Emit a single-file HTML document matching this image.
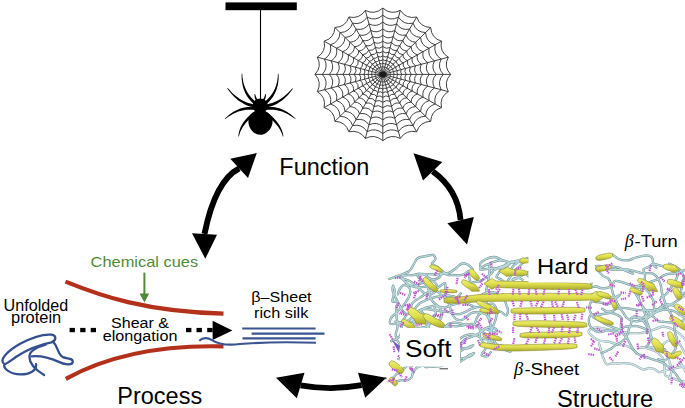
<!DOCTYPE html>
<html><head><meta charset="utf-8"><title>Silk: function, process, structure</title>
<style>
html,body{margin:0;padding:0;background:#fff;}
body{width:685px;height:408px;overflow:hidden;}
svg{display:block;}
svg text{font-family:"Liberation Sans",sans-serif;}
</style></head><body>
<svg width="685" height="408" viewBox="0 0 685 408">
<rect x="225.5" y="2.4" width="71.3" height="7.8" fill="#000"/>
<line x1="260.5" y1="10" x2="260.5" y2="99" stroke="#000" stroke-width="1.1"/>
<path d="M239.2,168.4 Q215.2,180.8 204.5,233.9" fill="none" stroke="#000" stroke-width="5.9"/>
<polygon points="256.8,153 230.3,158.8 248,178" fill="#000"/>
<polygon points="205.3,258.8 192,233.2 217,234.7" fill="#000"/>
<path d="M432.7,171.3 Q457.9,189.3 460.6,220.1" fill="none" stroke="#000" stroke-width="5.8"/>
<polygon points="413.5,153.2 423,180.6 442.4,162" fill="#000"/>
<polygon points="467,244.4 447.4,223.2 473.8,217" fill="#000"/>
<path d="M300.6,385.4 Q331.0,390.8 361.6,385.2" fill="none" stroke="#000" stroke-width="5.8"/>
<polygon points="276,377.8 304.5,372.7 296.8,398.2" fill="#000"/>
<polygon points="386.3,377.8 358,372.7 365.2,397.8" fill="#000"/>
<path d="M65.5,281.6 C100,295.6 145,311.6 223.5,313.6" fill="none" stroke="#b3301a" stroke-width="4.2"/>
<path d="M65.8,378.8 C100,360 150,344.5 223.5,346.4" fill="none" stroke="#b3301a" stroke-width="4.2"/>
<rect x="69.6" y="327.9" width="5.3" height="4.3" fill="#000"/>
<rect x="80.2" y="327.9" width="5.3" height="4.3" fill="#000"/>
<rect x="90.7" y="327.9" width="5.3" height="4.3" fill="#000"/>
<rect x="186" y="327.9" width="5.4" height="4.3" fill="#000"/>
<rect x="196.5" y="327.9" width="5.4" height="4.3" fill="#000"/>
<rect x="207.2" y="327.9" width="5.4" height="4.3" fill="#000"/>
<polygon points="232.4,330.5 212.6,320.7 212.6,340.1" fill="#000"/>
<line x1="144.4" y1="272.6" x2="144.4" y2="295" stroke="#4f8a3a" stroke-width="2"/>
<polygon points="144.4,302.4 139.6,293.6 149.2,293.6" fill="#4f8a3a"/>
<line x1="242.2" y1="328.5" x2="315.6" y2="328.5" stroke="#3b5591" stroke-width="2.1"/>
<line x1="251.6" y1="333.6" x2="324.5" y2="333.6" stroke="#3b5591" stroke-width="2.1"/>
<line x1="242.5" y1="338.4" x2="315.6" y2="338.4" stroke="#3b5591" stroke-width="2.1"/>
<path d="M199.3,340.9 C202,337.6 207.5,337.2 211.5,339.8 C218,344 228,345.6 240,344 C262,342.2 290,342 316,342.8" fill="none" stroke="#3b5591" stroke-width="2.1"/>
<path d="M3.2,362.9 C0.0,358.5 8.8,350.1 20.6,343.5 C32.4,337.4 44.1,334.0 51.5,334.7 C56.6,335.3 56.6,340.6 51.5,342.4 C41.2,344.3 26.5,350.1 16.2,356.8 C10.3,360.9 6.6,364.1 4.4,364.1 C2.9,368.5 10.3,374.4 20.6,374.4 C29.4,374.4 37.1,370.7 36.0,364.1" fill="none" stroke="#34508f" stroke-width="2.3" stroke-linecap="round"/>
<path d="M44.1,375.1 C36.8,370.7 29.4,364.1 29.4,356.8 C29.4,351.6 36.8,347.2 45.6,344.7" fill="none" stroke="#34508f" stroke-width="2.3" stroke-linecap="round"/>
<path d="M53.2,341.8 C58.1,346.5 57.4,354.1 62.9,357.1 C67.6,359.0 73.1,357.9 72.8,361.9 C72.5,365.6 65.4,364.9 58.8,361.9 C51.5,358.5 42.6,355.3 31.6,356.3" fill="none" stroke="#34508f" stroke-width="2.3" stroke-linecap="round"/>
<path d="M382.8,74.4L450.6,74.4M382.8,74.4L448.3,91.6M382.8,74.4L441.5,107.6M382.8,74.4L430.7,121.3M382.8,74.4L416.7,131.8M382.8,74.4L400.3,138.4M382.8,74.4L382.8,140.7M382.8,74.4L365.3,138.4M382.8,74.4L348.9,131.8M382.8,74.4L334.9,121.3M382.8,74.4L324.1,107.6M382.8,74.4L317.3,91.6M382.8,74.4L315.0,74.4M382.8,74.4L317.3,57.2M382.8,74.4L324.1,41.2M382.8,74.4L334.9,27.5M382.8,74.4L348.9,17.0M382.8,74.4L365.3,10.4M382.8,74.4L382.8,8.1M382.8,74.4L400.3,10.4M382.8,74.4L416.7,17.0M382.8,74.4L430.7,27.5M382.8,74.4L441.5,41.2M382.8,74.4L448.3,57.2" fill="none" stroke="#383838" stroke-width="0.95"/>
<path d="M390.8,74.4Q389.9,75.3 390.5,76.4Q389.5,77.1 389.7,78.3Q388.5,78.7 388.5,79.9Q387.2,80.0 386.8,81.2Q385.6,80.9 384.9,82.0Q383.7,81.4 382.8,82.2Q381.9,81.4 380.7,82.0Q380.0,80.9 378.8,81.2Q378.4,80.0 377.1,79.9Q377.1,78.7 375.9,78.3Q376.1,77.1 375.1,76.4Q375.7,75.3 374.8,74.4Q375.7,73.5 375.1,72.4Q376.1,71.7 375.9,70.5Q377.1,70.1 377.1,68.9Q378.4,68.8 378.8,67.6Q380.0,67.9 380.7,66.8Q381.9,67.4 382.8,66.6Q383.7,67.4 384.9,66.8Q385.6,67.9 386.8,67.6Q387.2,68.8 388.5,68.9Q388.5,70.1 389.7,70.5Q389.5,71.7 390.5,72.4Q389.9,73.5 390.8,74.4M394.3,74.4Q393.1,75.7 393.9,77.3Q392.4,78.3 392.8,80.0Q391.0,80.6 390.9,82.4Q389.1,82.4 388.6,84.1Q386.8,83.8 385.8,85.3Q384.2,84.4 382.8,85.6Q381.4,84.4 379.8,85.3Q378.8,83.8 377.1,84.1Q376.5,82.4 374.7,82.4Q374.6,80.6 372.8,80.0Q373.2,78.3 371.7,77.3Q372.5,75.7 371.3,74.4Q372.5,73.1 371.7,71.5Q373.2,70.5 372.8,68.8Q374.6,68.2 374.7,66.4Q376.5,66.4 377.1,64.7Q378.8,65.0 379.8,63.5Q381.4,64.4 382.8,63.2Q384.2,64.4 385.8,63.5Q386.8,65.0 388.6,64.7Q389.1,66.4 390.9,66.4Q391.0,68.2 392.8,68.8Q392.4,70.5 393.9,71.5Q393.1,73.1 394.3,74.4M397.8,74.4Q396.2,76.1 397.3,78.2Q395.3,79.5 395.8,81.7Q393.5,82.4 393.4,84.8Q391.0,84.9 390.3,87.1Q388.0,86.6 386.7,88.6Q384.6,87.5 382.8,89.1Q381.0,87.5 378.9,88.6Q377.6,86.6 375.3,87.1Q374.6,84.9 372.2,84.8Q372.1,82.4 369.8,81.7Q370.3,79.5 368.3,78.2Q369.4,76.1 367.8,74.4Q369.4,72.7 368.3,70.6Q370.3,69.3 369.8,67.1Q372.1,66.4 372.2,64.0Q374.6,63.9 375.3,61.7Q377.6,62.2 378.9,60.2Q381.0,61.3 382.8,59.7Q384.6,61.3 386.7,60.2Q388.0,62.2 390.3,61.7Q391.0,63.9 393.4,64.0Q393.5,66.4 395.8,67.1Q395.3,69.3 397.3,70.6Q396.2,72.7 397.8,74.4M401.8,74.4Q399.8,76.6 401.2,79.2Q398.6,80.8 399.3,83.7Q396.4,84.6 396.2,87.5Q393.2,87.7 392.3,90.5Q389.3,89.9 387.7,92.3Q385.0,91.0 382.8,93.0Q380.6,91.0 377.9,92.3Q376.3,89.9 373.3,90.5Q372.4,87.7 369.4,87.5Q369.2,84.6 366.3,83.7Q367.0,80.8 364.4,79.2Q365.8,76.6 363.8,74.4Q365.8,72.2 364.4,69.6Q367.0,68.0 366.3,65.1Q369.2,64.2 369.4,61.3Q372.4,61.1 373.3,58.3Q376.3,58.9 377.9,56.5Q380.6,57.8 382.8,55.8Q385.0,57.8 387.7,56.5Q389.3,58.9 392.3,58.3Q393.2,61.1 396.2,61.3Q396.4,64.2 399.3,65.1Q398.6,68.0 401.2,69.6Q399.8,72.2 401.8,74.4M406.3,74.4Q403.8,77.1 405.5,80.3Q402.3,82.3 403.2,85.9Q399.6,87.0 399.4,90.7Q395.7,90.8 394.6,94.3Q390.9,93.5 388.9,96.6Q385.6,94.9 382.8,97.4Q380.0,94.9 376.7,96.6Q374.7,93.5 371.1,94.3Q369.9,90.8 366.2,90.7Q366.0,87.0 362.4,85.9Q363.3,82.3 360.1,80.3Q361.8,77.1 359.3,74.4Q361.8,71.7 360.1,68.5Q363.3,66.5 362.4,62.9Q366.0,61.8 366.2,58.1Q369.9,58.0 371.1,54.5Q374.7,55.3 376.7,52.2Q380.0,53.9 382.8,51.4Q385.6,53.9 388.9,52.2Q390.9,55.3 394.6,54.5Q395.7,58.0 399.4,58.1Q399.6,61.8 403.2,62.9Q402.3,66.5 405.5,68.5Q403.8,71.7 406.3,74.4M411.3,74.4Q408.2,77.7 410.3,81.6Q406.5,84.0 407.5,88.3Q403.1,89.7 403.0,94.1Q398.4,94.3 397.1,98.5Q392.6,97.6 390.2,101.3Q386.1,99.3 382.8,102.3Q379.5,99.3 375.4,101.3Q373.0,97.6 368.6,98.5Q367.2,94.3 362.6,94.1Q362.5,89.7 358.1,88.3Q359.1,84.0 355.3,81.6Q357.4,77.7 354.3,74.4Q357.4,71.1 355.3,67.2Q359.1,64.8 358.1,60.5Q362.5,59.1 362.6,54.7Q367.2,54.5 368.6,50.3Q373.0,51.2 375.4,47.5Q379.5,49.5 382.8,46.5Q386.1,49.5 390.2,47.5Q392.6,51.2 397.1,50.3Q398.4,54.5 403.0,54.7Q403.1,59.1 407.5,60.5Q406.5,64.8 410.3,67.2Q408.2,71.1 411.3,74.4M416.8,74.4Q413.1,78.3 415.6,83.0Q411.1,85.9 412.2,91.0Q407.1,92.6 406.8,97.9Q401.4,98.1 399.8,103.2Q394.5,102.0 391.6,106.5Q386.8,104.1 382.8,107.7Q378.8,104.1 374.0,106.5Q371.1,102.0 365.8,103.2Q364.2,98.1 358.8,97.9Q358.5,92.6 353.4,91.0Q354.5,85.9 350.0,83.0Q352.5,78.3 348.8,74.4Q352.5,70.5 350.0,65.8Q354.5,62.9 353.4,57.8Q358.5,56.2 358.8,50.9Q364.2,50.7 365.8,45.6Q371.1,46.8 374.0,42.3Q378.8,44.7 382.8,41.1Q386.8,44.7 391.6,42.3Q394.5,46.8 399.8,45.6Q401.4,50.7 406.8,50.9Q407.1,56.2 412.2,57.8Q411.1,62.9 415.6,65.8Q413.1,70.5 416.8,74.4M422.8,74.4Q418.5,79.0 421.4,84.5Q416.1,87.9 417.4,94.0Q411.4,95.8 411.1,102.1Q404.7,102.3 402.8,108.3Q396.6,106.9 393.2,112.2Q387.5,109.3 382.8,113.5Q378.1,109.3 372.4,112.2Q369.0,106.9 362.8,108.3Q360.9,102.3 354.5,102.1Q354.2,95.8 348.2,94.0Q349.5,87.9 344.2,84.5Q347.1,79.0 342.8,74.4Q347.1,69.8 344.2,64.3Q349.5,60.9 348.2,54.8Q354.2,53.0 354.5,46.7Q360.9,46.5 362.8,40.5Q369.0,41.9 372.4,36.6Q378.1,39.5 382.8,35.3Q387.5,39.5 393.2,36.6Q396.6,41.9 402.8,40.5Q404.7,46.5 411.1,46.7Q411.4,53.0 417.4,54.8Q416.1,60.9 421.4,64.3Q418.5,69.8 422.8,74.4M429.3,74.4Q424.3,79.7 427.7,86.2Q421.5,90.1 423.1,97.1Q416.0,99.3 415.7,106.6Q408.3,106.9 406.1,113.8Q398.8,112.2 394.8,118.3Q388.3,115.0 382.8,119.9Q377.3,115.0 370.8,118.3Q366.8,112.2 359.6,113.8Q357.3,106.9 349.9,106.6Q349.6,99.3 342.5,97.1Q344.1,90.1 337.9,86.2Q341.3,79.7 336.3,74.4Q341.3,69.1 337.9,62.6Q344.1,58.7 342.5,51.7Q349.6,49.5 349.9,42.2Q357.3,41.9 359.6,35.0Q366.8,36.6 370.8,30.5Q377.3,33.8 382.8,28.9Q388.3,33.8 394.8,30.5Q398.8,36.6 406.1,35.0Q408.3,41.9 415.7,42.2Q416.0,49.5 423.1,51.7Q421.5,58.7 427.7,62.6Q424.3,69.1 429.3,74.4M436.3,74.4Q430.5,80.5 434.5,87.9Q427.3,92.4 429.1,100.6Q421.0,103.1 420.6,111.4Q412.1,111.8 409.6,119.7Q401.2,117.9 396.6,124.9Q389.1,121.1 382.8,126.7Q376.5,121.1 369.0,124.9Q364.4,117.9 356.1,119.7Q353.5,111.8 345.0,111.4Q344.6,103.1 336.5,100.6Q338.3,92.4 331.1,87.9Q335.1,80.5 329.3,74.4Q335.1,68.3 331.1,60.9Q338.3,56.4 336.5,48.2Q344.6,45.7 345.0,37.4Q353.5,37.0 356.1,29.1Q364.4,30.9 369.0,23.9Q376.5,27.7 382.8,22.1Q389.1,27.7 396.6,23.9Q401.2,30.9 409.6,29.1Q412.1,37.0 420.6,37.4Q421.0,45.7 429.1,48.2Q427.3,56.4 434.5,60.9Q430.5,68.3 436.3,74.4M443.3,74.4Q436.8,81.4 441.2,89.7Q433.1,94.8 435.2,104.0Q426.0,106.8 425.6,116.2Q415.9,116.6 413.1,125.6Q403.6,123.6 398.5,131.6Q389.9,127.2 382.8,133.6Q375.7,127.2 367.1,131.6Q362.0,123.6 352.6,125.6Q349.7,116.6 340.0,116.2Q339.6,106.8 330.4,104.0Q332.5,94.8 324.4,89.7Q328.8,81.4 322.3,74.4Q328.8,67.4 324.4,59.1Q332.5,54.0 330.4,44.8Q339.6,42.0 340.0,32.6Q349.7,32.2 352.5,23.2Q362.0,25.2 367.1,17.2Q375.7,21.6 382.8,15.2Q389.9,21.6 398.5,17.2Q403.6,25.2 413.1,23.2Q415.9,32.2 425.6,32.6Q426.0,42.0 435.2,44.8Q433.1,54.0 441.2,59.1Q436.8,67.4 443.3,74.4M450.6,74.4Q443.3,82.2 448.3,91.6Q439.2,97.2 441.5,107.6Q431.2,110.7 430.7,121.3Q419.9,121.7 416.7,131.8Q406.2,129.5 400.3,138.4Q390.8,133.6 382.8,140.7Q374.8,133.6 365.3,138.4Q359.4,129.5 348.9,131.8Q345.7,121.7 334.9,121.3Q334.4,110.7 324.1,107.6Q326.4,97.2 317.3,91.6Q322.3,82.2 315.0,74.4Q322.3,66.6 317.3,57.2Q326.4,51.6 324.1,41.2Q334.4,38.1 334.9,27.5Q345.7,27.1 348.9,17.0Q359.4,19.3 365.3,10.4Q374.8,15.2 382.8,8.1Q390.8,15.2 400.3,10.4Q406.2,19.3 416.7,17.0Q419.9,27.1 430.7,27.5Q431.2,38.1 441.5,41.2Q439.2,51.6 448.3,57.2Q443.3,66.6 450.6,74.4" fill="none" stroke="#383838" stroke-width="0.95"/>
<ellipse cx="382.8" cy="74.4" rx="3.6" ry="3.0" fill="#1a1a1a"/>
<polygon points="257.2,103.0 255.2,101.4 253.4,99.7 251.7,98.0 250.2,96.2 248.8,94.4 247.5,92.4 246.4,90.4 245.4,88.3 244.5,86.1 243.8,83.9 243.2,81.5 242.8,79.1 242.4,76.5 242.3,73.8 241.7,73.8 241.6,76.5 241.7,79.2 242.0,81.7 242.4,84.2 242.9,86.6 243.6,89.0 244.5,91.3 245.5,93.5 246.7,95.7 248.1,97.8 249.7,99.8 251.4,101.7 253.3,103.6 255.3,105.4" fill="#000"/>
<polygon points="255.5,104.7 252.9,104.2 250.5,103.6 248.1,102.9 245.8,102.0 243.7,101.0 241.6,99.9 239.5,98.7 237.6,97.3 235.8,95.9 234.0,94.4 232.3,92.9 230.7,91.3 229.2,89.6 227.7,88.0 227.2,88.3 228.5,90.2 229.9,92.0 231.4,93.8 233.0,95.5 234.6,97.2 236.4,98.8 238.3,100.4 240.4,101.8 242.5,103.1 244.8,104.4 247.1,105.4 249.7,106.4 252.3,107.1 255.1,107.7" fill="#000"/>
<polygon points="255.4,107.0 252.5,106.9 249.7,106.9 247.0,107.1 244.4,107.5 242.0,108.1 239.7,108.8 237.5,109.7 235.4,110.7 233.5,111.8 231.6,113.0 229.8,114.3 228.0,115.7 226.3,117.2 224.7,118.7 225.1,119.1 226.9,117.8 228.7,116.5 230.5,115.4 232.4,114.3 234.3,113.3 236.2,112.4 238.3,111.6 240.4,111.0 242.6,110.4 244.8,110.1 247.2,109.8 249.7,109.7 252.4,109.8 255.1,110.0" fill="#000"/>
<polygon points="255.4,110.8 253.0,112.6 250.7,114.4 248.7,116.2 246.9,118.1 245.2,119.9 243.8,121.8 242.5,123.7 241.5,125.6 240.5,127.5 239.8,129.4 239.2,131.2 238.8,133.0 238.5,134.8 238.3,136.5 238.9,136.6 239.3,135.0 239.8,133.3 240.4,131.6 241.2,129.9 242.1,128.3 243.1,126.6 244.3,124.9 245.6,123.2 247.1,121.5 248.7,119.9 250.5,118.2 252.5,116.6 254.7,114.9 257.1,113.3" fill="#000"/>
<polygon points="265.1,105.4 267.1,103.6 269.0,101.7 270.7,99.8 272.3,97.8 273.6,95.7 274.8,93.5 275.9,91.3 276.7,89.0 277.4,86.6 278.0,84.2 278.3,81.7 278.6,79.2 278.6,76.5 278.5,73.8 277.9,73.8 277.8,76.5 277.5,79.1 277.1,81.5 276.5,83.9 275.8,86.2 275.0,88.3 274.0,90.4 272.9,92.4 271.6,94.4 270.2,96.2 268.7,98.0 267.0,99.7 265.2,101.4 263.2,103.0" fill="#000"/>
<polygon points="265.3,107.7 268.1,107.1 270.7,106.4 273.2,105.4 275.6,104.4 277.9,103.2 280.0,101.8 282.0,100.4 283.9,98.9 285.6,97.3 287.3,95.7 288.8,94.0 290.2,92.2 291.6,90.5 292.8,88.7 292.3,88.3 290.9,89.9 289.4,91.5 287.9,93.1 286.2,94.6 284.5,96.0 282.7,97.4 280.8,98.7 278.8,99.9 276.7,101.0 274.5,102.0 272.3,102.9 269.9,103.6 267.4,104.2 264.9,104.7" fill="#000"/>
<polygon points="265.2,110.0 268.0,109.8 270.7,109.7 273.2,109.8 275.5,110.1 277.8,110.4 280.0,111.0 282.1,111.6 284.2,112.4 286.1,113.3 288.0,114.3 289.9,115.4 291.7,116.5 293.5,117.8 295.3,119.1 295.7,118.7 294.1,117.2 292.4,115.7 290.6,114.3 288.8,113.0 286.9,111.8 285.0,110.7 282.9,109.7 280.7,108.8 278.4,108.1 276.0,107.5 273.4,107.1 270.7,106.9 267.9,106.9 264.9,107.0" fill="#000"/>
<polygon points="263.3,113.3 265.7,114.9 267.9,116.6 270.0,118.2 271.9,119.9 273.6,121.6 275.2,123.3 276.7,124.9 278.0,126.6 279.1,128.3 280.2,130.0 281.0,131.7 281.8,133.3 282.4,135.0 282.8,136.6 283.4,136.5 283.2,134.8 282.8,133.0 282.2,131.2 281.5,129.3 280.6,127.5 279.6,125.6 278.4,123.7 277.0,121.8 275.4,119.9 273.7,118.0 271.8,116.2 269.7,114.4 267.4,112.6 264.9,110.8" fill="#000"/>
<polygon points="258.1,100.8 257.4,99.5 256.7,98.3 256.2,97.2 255.8,96.2 255.4,95.1 255.2,94.0 254.6,94.0 254.5,95.2 254.6,96.4 254.8,97.7 255.2,98.9 255.7,100.3 256.4,101.7" fill="#000"/>
<polygon points="264.0,101.7 264.7,100.3 265.2,98.9 265.6,97.7 265.8,96.4 265.9,95.2 265.8,94.0 265.2,94.0 265.0,95.1 264.6,96.2 264.2,97.2 263.7,98.3 263.0,99.5 262.3,100.8" fill="#000"/>
<ellipse cx="260.2" cy="105.8" rx="7.6" ry="7.4" fill="#000"/>
<path d="M260.2,111.3 C270.0,110.5 273.3,117.5 272.4,123.4 C271.4,129.7 265.5,134.8 260.2,134.8 C254.9,134.8 249.4,129.7 248.6,123.4 C247.6,117.5 250.4,110.5 260.2,111.3Z" fill="#000"/>
<defs><linearGradient id="yg" x1="0" y1="0" x2="0" y2="1"><stop offset="0" stop-color="#eeee78"/><stop offset="0.5" stop-color="#dfdf4c"/><stop offset="1" stop-color="#a9a932"/></linearGradient></defs>
<g id="structure">
<path d="M679.7,362.1C680.2,362.8 681.9,365.0 682.9,366.6C683.8,368.2 684.5,369.9 685.4,371.5C686.3,373.0 688.3,374.4 688.4,376.0C688.6,377.6 687.5,380.3 686.3,381.1C685.0,381.9 682.6,381.3 680.8,381.0C679.0,380.6 677.3,379.9 675.5,379.3C673.8,378.7 672.1,378.0 670.4,377.4C668.7,376.7 666.2,376.6 665.3,375.3C664.3,374.0 664.9,371.7 664.7,369.8C664.5,368.0 664.4,366.2 664.1,364.4C663.9,362.5 664.1,360.5 663.3,358.9C662.6,357.3 661.1,356.0 659.8,354.7C658.5,353.4 657.1,352.2 655.5,351.3C653.9,350.4 652.0,350.0 650.3,349.4C648.6,348.8 646.9,347.9 645.1,347.7C643.3,347.4 639.6,347.9 639.6,347.8C639.6,347.6 643.2,347.1 645.0,347.0C646.9,346.8 648.7,346.8 650.5,347.0C652.4,347.1 654.2,347.3 656.0,347.7C657.7,348.2 659.5,348.9 661.1,349.7C662.7,350.6 664.4,351.6 665.6,352.9C666.8,354.2 667.5,356.1 668.2,357.8C668.9,359.5 669.2,361.3 669.8,363.0C670.4,364.7 671.6,366.4 671.8,368.1C672.0,369.9 671.6,371.8 671.1,373.6C670.7,375.4 669.6,377.9 669.3,378.8M688.0,345.0C687.6,344.2 686.6,341.6 685.5,340.1C684.5,338.6 683.1,337.3 681.8,336.0C680.5,334.7 679.1,333.5 677.7,332.4C676.2,331.3 674.6,330.4 673.0,329.5C671.4,328.7 669.7,327.8 667.9,327.3C666.2,326.8 664.3,326.5 662.5,326.6C660.7,326.8 659.0,327.7 657.2,328.3C655.5,328.9 653.8,329.7 652.1,330.2C650.3,330.8 648.5,331.1 646.8,331.6C645.0,332.0 643.2,332.6 641.4,332.9C639.6,333.1 637.8,333.1 635.9,333.2C634.1,333.2 632.3,333.2 630.4,333.1C628.6,333.0 626.8,332.6 625.0,332.5C623.1,332.4 621.3,332.8 619.5,332.7C617.6,332.6 615.8,332.3 614.0,331.8C612.3,331.3 610.6,330.4 608.9,329.8C607.2,329.3 605.4,328.7 603.6,328.3C601.8,328.0 600.0,327.8 598.1,327.7C596.3,327.6 594.2,327.2 592.6,327.9C591.1,328.5 588.7,330.3 588.6,331.6C588.5,332.9 590.7,334.6 592.0,335.9C593.4,337.1 594.8,338.3 596.4,339.2C598.0,340.0 599.8,340.6 601.6,341.0C603.4,341.4 605.3,341.2 607.1,341.5C608.9,341.7 610.7,342.3 612.4,342.8C614.2,343.3 615.9,344.1 617.7,344.5C619.4,344.9 621.3,345.0 623.1,345.4C624.9,345.8 626.8,346.0 628.4,346.7C630.1,347.4 631.8,348.4 633.1,349.6C634.5,350.7 636.0,353.1 636.6,353.8M599.0,343.5C599.2,344.4 600.1,347.0 600.6,348.8C601.1,350.6 601.4,352.4 601.9,354.1C602.5,355.9 603.1,357.6 603.9,359.3C604.6,360.9 605.2,363.4 606.5,364.1C607.9,364.8 610.1,363.5 612.0,363.4C613.8,363.3 615.6,363.5 617.5,363.5C619.3,363.4 621.1,363.1 623.0,363.1C624.8,363.1 626.6,363.1 628.4,363.4C630.2,363.7 632.0,364.2 633.8,364.8C635.5,365.5 637.1,366.4 638.7,367.2C640.4,367.9 642.0,369.3 643.7,369.5C645.4,369.7 647.3,368.2 649.1,368.2C650.8,368.2 652.8,368.6 654.4,369.3C656.1,370.0 657.5,371.9 659.1,372.1C660.8,372.4 662.7,371.2 664.4,370.7C666.2,370.2 668.0,369.8 669.8,369.3C671.6,368.9 673.4,368.6 675.2,368.2C676.9,367.8 678.7,367.3 680.5,367.0C682.3,366.8 684.5,367.2 686.0,366.5C687.5,365.7 689.5,363.9 689.8,362.5C690.0,361.0 688.2,359.1 687.3,357.5C686.4,355.9 685.4,354.4 684.5,352.8C683.6,351.2 683.0,349.5 682.1,347.9C681.1,346.3 680.4,344.4 679.0,343.3C677.7,342.2 675.7,341.7 673.9,341.3C672.1,340.8 670.1,340.3 668.4,340.7C666.8,341.1 665.2,342.5 663.9,343.8C662.6,345.0 661.2,347.5 660.6,348.2" fill="none" stroke="#86a2a6" stroke-width="2.3" stroke-linecap="round" stroke-linejoin="round"/>
<path d="M679.7,362.1C680.2,362.8 681.9,365.0 682.9,366.6C683.8,368.2 684.5,369.9 685.4,371.5C686.3,373.0 688.3,374.4 688.4,376.0C688.6,377.6 687.5,380.3 686.3,381.1C685.0,381.9 682.6,381.3 680.8,381.0C679.0,380.6 677.3,379.9 675.5,379.3C673.8,378.7 672.1,378.0 670.4,377.4C668.7,376.7 666.2,376.6 665.3,375.3C664.3,374.0 664.9,371.7 664.7,369.8C664.5,368.0 664.4,366.2 664.1,364.4C663.9,362.5 664.1,360.5 663.3,358.9C662.6,357.3 661.1,356.0 659.8,354.7C658.5,353.4 657.1,352.2 655.5,351.3C653.9,350.4 652.0,350.0 650.3,349.4C648.6,348.8 646.9,347.9 645.1,347.7C643.3,347.4 639.6,347.9 639.6,347.8C639.6,347.6 643.2,347.1 645.0,347.0C646.9,346.8 648.7,346.8 650.5,347.0C652.4,347.1 654.2,347.3 656.0,347.7C657.7,348.2 659.5,348.9 661.1,349.7C662.7,350.6 664.4,351.6 665.6,352.9C666.8,354.2 667.5,356.1 668.2,357.8C668.9,359.5 669.2,361.3 669.8,363.0C670.4,364.7 671.6,366.4 671.8,368.1C672.0,369.9 671.6,371.8 671.1,373.6C670.7,375.4 669.6,377.9 669.3,378.8M688.0,345.0C687.6,344.2 686.6,341.6 685.5,340.1C684.5,338.6 683.1,337.3 681.8,336.0C680.5,334.7 679.1,333.5 677.7,332.4C676.2,331.3 674.6,330.4 673.0,329.5C671.4,328.7 669.7,327.8 667.9,327.3C666.2,326.8 664.3,326.5 662.5,326.6C660.7,326.8 659.0,327.7 657.2,328.3C655.5,328.9 653.8,329.7 652.1,330.2C650.3,330.8 648.5,331.1 646.8,331.6C645.0,332.0 643.2,332.6 641.4,332.9C639.6,333.1 637.8,333.1 635.9,333.2C634.1,333.2 632.3,333.2 630.4,333.1C628.6,333.0 626.8,332.6 625.0,332.5C623.1,332.4 621.3,332.8 619.5,332.7C617.6,332.6 615.8,332.3 614.0,331.8C612.3,331.3 610.6,330.4 608.9,329.8C607.2,329.3 605.4,328.7 603.6,328.3C601.8,328.0 600.0,327.8 598.1,327.7C596.3,327.6 594.2,327.2 592.6,327.9C591.1,328.5 588.7,330.3 588.6,331.6C588.5,332.9 590.7,334.6 592.0,335.9C593.4,337.1 594.8,338.3 596.4,339.2C598.0,340.0 599.8,340.6 601.6,341.0C603.4,341.4 605.3,341.2 607.1,341.5C608.9,341.7 610.7,342.3 612.4,342.8C614.2,343.3 615.9,344.1 617.7,344.5C619.4,344.9 621.3,345.0 623.1,345.4C624.9,345.8 626.8,346.0 628.4,346.7C630.1,347.4 631.8,348.4 633.1,349.6C634.5,350.7 636.0,353.1 636.6,353.8M599.0,343.5C599.2,344.4 600.1,347.0 600.6,348.8C601.1,350.6 601.4,352.4 601.9,354.1C602.5,355.9 603.1,357.6 603.9,359.3C604.6,360.9 605.2,363.4 606.5,364.1C607.9,364.8 610.1,363.5 612.0,363.4C613.8,363.3 615.6,363.5 617.5,363.5C619.3,363.4 621.1,363.1 623.0,363.1C624.8,363.1 626.6,363.1 628.4,363.4C630.2,363.7 632.0,364.2 633.8,364.8C635.5,365.5 637.1,366.4 638.7,367.2C640.4,367.9 642.0,369.3 643.7,369.5C645.4,369.7 647.3,368.2 649.1,368.2C650.8,368.2 652.8,368.6 654.4,369.3C656.1,370.0 657.5,371.9 659.1,372.1C660.8,372.4 662.7,371.2 664.4,370.7C666.2,370.2 668.0,369.8 669.8,369.3C671.6,368.9 673.4,368.6 675.2,368.2C676.9,367.8 678.7,367.3 680.5,367.0C682.3,366.8 684.5,367.2 686.0,366.5C687.5,365.7 689.5,363.9 689.8,362.5C690.0,361.0 688.2,359.1 687.3,357.5C686.4,355.9 685.4,354.4 684.5,352.8C683.6,351.2 683.0,349.5 682.1,347.9C681.1,346.3 680.4,344.4 679.0,343.3C677.7,342.2 675.7,341.7 673.9,341.3C672.1,340.8 670.1,340.3 668.4,340.7C666.8,341.1 665.2,342.5 663.9,343.8C662.6,345.0 661.2,347.5 660.6,348.2" fill="none" stroke="#d3e5e6" stroke-width="1.4" stroke-linecap="round" stroke-linejoin="round"/>
<path d="M687.6,267.7C687.7,268.6 688.3,271.5 687.7,273.2C687.1,274.8 685.2,275.9 684.3,277.5C683.4,279.0 682.6,280.8 682.2,282.5C681.7,284.3 681.7,286.2 681.5,288.0C681.4,289.8 680.4,292.8 681.2,293.5C682.0,294.2 685.1,293.0 686.5,292.0C687.9,291.1 689.6,289.2 689.7,287.6C689.9,286.0 688.3,284.2 687.4,282.6C686.5,281.0 685.2,279.6 684.4,278.0C683.5,276.4 683.1,274.5 682.2,273.0C681.3,271.4 680.1,269.8 678.8,268.7C677.4,267.5 675.6,266.8 674.0,266.0C672.3,265.2 669.1,263.5 669.0,263.6C669.0,263.7 672.3,265.3 673.7,266.5C675.0,267.7 676.5,269.2 677.1,270.8C677.7,272.4 677.6,274.5 677.3,276.3C677.0,278.1 676.1,279.8 675.2,281.4C674.4,283.0 673.3,284.5 672.2,286.0C671.2,287.5 670.1,289.0 669.0,290.4C667.9,291.9 666.8,293.5 665.5,294.7C664.1,295.9 661.6,297.1 660.8,297.6M416.5,285.7C417.3,285.3 419.6,283.8 421.3,283.1C423.0,282.4 424.7,281.8 426.5,281.4C428.3,281.1 430.4,280.5 432.0,281.0C433.7,281.5 435.7,282.8 436.4,284.3C437.1,285.7 436.9,288.2 436.2,289.7C435.5,291.3 433.9,292.9 432.3,293.7C430.8,294.5 428.6,294.9 426.9,294.6C425.2,294.2 423.8,292.6 422.3,291.5C420.8,290.4 419.5,289.2 418.1,288.0C416.7,286.8 415.5,285.4 414.1,284.2C412.7,283.0 411.2,281.9 409.6,281.0C408.0,280.2 406.2,279.8 404.5,279.1C402.8,278.5 399.5,276.7 399.4,276.9C399.3,277.1 402.4,279.0 403.8,280.3C405.2,281.5 406.2,283.1 407.7,284.1C409.2,285.2 411.0,285.8 412.7,286.3C414.5,286.9 416.3,287.3 418.1,287.4C419.9,287.5 421.8,286.9 423.6,286.9C425.4,286.8 427.3,286.7 429.1,287.1C430.9,287.5 432.6,288.3 434.2,289.2C435.7,290.1 437.2,291.3 438.6,292.4C440.1,293.6 441.2,295.0 442.7,296.2C444.1,297.3 445.5,298.7 447.1,299.4C448.7,300.1 450.8,300.7 452.5,300.4C454.2,300.1 455.7,298.6 457.1,297.4C458.5,296.2 460.2,294.0 460.8,293.4M421.5,311.6C422.1,312.3 423.9,314.4 425.0,315.8C426.2,317.3 427.6,318.7 428.2,320.3C428.8,322.0 429.2,324.2 428.7,325.8C428.2,327.4 426.2,328.5 425.2,330.1C424.2,331.6 423.5,333.3 422.9,335.0C422.2,336.7 421.6,338.5 421.3,340.3C421.0,342.1 421.0,344.0 420.9,345.8C420.9,347.6 421.3,349.5 420.9,351.3C420.6,353.1 420.0,355.0 418.9,356.4C417.8,357.8 416.0,359.2 414.3,359.4C412.7,359.7 410.8,358.2 409.0,357.9C407.2,357.6 405.3,357.4 403.5,357.6C401.7,357.8 398.2,358.9 398.2,359.1C398.3,359.3 401.9,359.0 403.7,359.0C405.6,359.0 407.5,358.5 409.2,358.9C411.0,359.2 412.8,359.9 414.3,360.9C415.8,361.9 416.6,364.2 418.1,364.9C419.7,365.6 423.6,364.9 423.6,365.1C423.6,365.3 419.9,366.2 418.2,365.9C416.5,365.6 414.3,364.6 413.4,363.3C412.4,361.9 412.3,359.7 412.2,357.9C412.2,356.1 412.9,354.3 413.2,352.5C413.5,350.7 413.9,348.9 414.1,347.0C414.4,345.2 415.0,343.4 415.0,341.6C415.0,339.8 414.7,337.9 414.1,336.2C413.6,334.4 412.1,332.1 411.7,331.3M432.6,338.5C432.5,337.6 432.6,334.7 432.0,333.1C431.4,331.4 430.1,329.9 429.2,328.3C428.2,326.8 427.7,324.9 426.5,323.5C425.3,322.2 423.5,321.4 422.0,320.3C420.5,319.2 419.1,318.0 417.7,316.9C416.3,315.8 414.5,314.9 413.4,313.5C412.3,312.1 411.1,310.2 411.0,308.5C410.8,306.8 411.4,304.7 412.4,303.2C413.3,301.8 415.2,300.8 416.7,299.8C418.1,298.7 419.8,297.8 421.3,296.8C422.8,295.8 424.3,294.7 425.8,293.7C427.3,292.7 428.8,291.4 430.4,290.7C432.1,290.0 434.1,290.0 435.8,289.3C437.4,288.5 438.7,287.1 440.2,286.0C441.7,285.0 444.0,282.7 444.8,283.1C445.7,283.5 445.4,286.7 445.4,288.5C445.4,290.4 444.9,292.2 445.0,294.0C445.1,295.8 445.6,297.7 446.3,299.4C447.0,301.1 448.3,302.5 449.0,304.1C449.8,305.8 450.0,307.7 450.6,309.4C451.2,311.2 451.5,313.0 452.4,314.6C453.2,316.2 454.4,318.0 455.8,318.9C457.3,319.8 459.5,320.4 461.2,320.1C462.9,319.8 464.5,318.4 466.0,317.4C467.4,316.3 468.5,314.6 470.1,313.7C471.7,312.9 473.6,312.4 475.4,312.2C477.2,312.1 479.1,312.3 480.9,312.7C482.6,313.0 484.8,313.3 486.1,314.3C487.4,315.4 488.1,317.4 488.9,319.1C489.7,320.7 490.3,323.4 490.6,324.3M689.0,275.5C688.9,276.4 688.4,279.1 688.4,281.0C688.4,282.8 689.0,284.6 689.0,286.4C689.1,288.2 689.5,290.4 688.7,291.9C688.0,293.4 685.9,294.3 684.5,295.4C683.1,296.6 681.6,297.7 680.1,298.7C678.6,299.8 677.1,300.8 675.5,301.7C674.0,302.7 672.5,303.8 670.8,304.7C669.2,305.5 667.4,306.0 665.7,306.7C664.0,307.3 662.3,308.1 660.6,308.6C658.8,309.1 657.0,309.3 655.2,309.6C653.4,309.9 651.6,310.3 649.7,310.4C647.9,310.6 646.1,310.4 644.2,310.3C642.4,310.2 640.6,310.2 638.7,310.1C636.9,309.9 635.1,309.8 633.3,309.5C631.5,309.2 629.7,308.6 627.9,308.3C626.1,308.0 624.2,307.8 622.4,307.8C620.6,307.8 618.7,307.8 617.0,308.4C615.2,308.9 613.8,310.5 612.1,311.0C610.4,311.5 608.3,311.9 606.6,311.5C605.0,311.1 602.7,309.1 602.0,308.6M561.4,266.4C562.1,266.9 564.3,268.6 566.0,269.4C567.6,270.1 569.5,270.5 571.3,270.7C573.1,271.0 575.0,271.0 576.8,270.7C578.6,270.4 580.2,269.4 582.0,268.9C583.8,268.4 585.6,268.2 587.4,267.8C589.2,267.4 590.9,266.9 592.7,266.5C594.5,266.2 596.4,265.8 598.2,265.8C600.0,265.9 601.8,266.3 603.6,266.8C605.4,267.3 606.9,268.4 608.7,268.8C610.5,269.3 612.3,269.4 614.2,269.6C616.0,269.7 617.8,269.7 619.7,269.7C621.5,269.7 623.3,269.5 625.2,269.5C627.0,269.6 628.8,269.8 630.6,270.1C632.4,270.4 634.2,271.0 636.0,271.5C637.7,271.9 639.4,272.7 641.2,273.0C643.0,273.2 644.9,273.1 646.7,273.1C648.6,273.2 650.6,272.7 652.2,273.3C653.9,273.8 655.4,275.3 656.6,276.6C657.8,277.9 658.7,279.7 659.4,281.3C660.2,283.0 660.6,284.8 661.0,286.6C661.4,288.4 661.3,290.3 661.7,292.1C662.1,293.8 662.9,295.5 663.5,297.3C664.0,299.0 664.4,300.8 665.0,302.5C665.6,304.3 666.2,306.0 667.0,307.6C667.9,309.3 669.0,310.7 670.0,312.3C670.9,313.9 672.0,315.4 672.6,317.1C673.2,318.8 673.2,320.8 673.5,322.6C673.9,324.4 674.3,326.2 674.5,328.0C674.8,329.8 674.8,331.6 675.2,333.4C675.6,335.2 676.8,336.8 677.0,338.6C677.2,340.4 676.7,342.3 676.4,344.1C676.1,345.9 675.9,347.8 675.2,349.5C674.5,351.1 673.2,352.5 672.0,353.9C670.9,355.4 669.7,356.9 668.3,358.0C666.9,359.2 665.2,360.5 663.5,360.7C661.9,360.9 659.2,359.4 658.3,359.1M402.6,275.4C403.5,275.4 406.2,275.0 408.0,275.0C409.9,274.9 411.7,275.2 413.5,275.0C415.4,274.8 417.1,274.0 418.9,273.9C420.7,273.8 422.8,273.6 424.4,274.2C426.0,274.9 427.0,276.9 428.6,277.8C430.2,278.7 432.1,279.6 433.8,279.5C435.5,279.5 437.5,278.5 438.9,277.5C440.4,276.5 441.2,273.9 442.7,273.5C444.2,273.1 446.2,274.8 448.0,275.1C449.8,275.3 451.7,274.9 453.5,275.0C455.3,275.0 457.2,275.4 459.0,275.3C460.8,275.1 462.7,274.8 464.4,274.1C466.0,273.3 468.0,270.5 468.8,270.9C469.6,271.2 468.8,274.6 469.1,276.4C469.4,278.1 469.5,280.7 470.7,281.6C471.9,282.5 474.4,282.0 476.2,281.8C478.0,281.6 479.9,281.1 481.6,280.4C483.2,279.7 484.6,278.4 486.2,277.4C487.7,276.3 489.2,275.3 490.6,274.1C491.9,272.9 492.9,271.2 494.3,270.0C495.7,268.9 497.4,268.1 499.1,267.3C500.7,266.6 502.6,266.3 504.3,265.5C505.9,264.8 507.3,263.3 508.9,262.6C510.6,261.9 512.5,261.8 514.3,261.4C516.1,260.9 517.8,260.4 519.6,260.0C521.4,259.6 523.2,259.4 525.0,259.1C526.9,258.8 529.0,257.7 530.5,258.3C532.0,258.9 532.6,261.6 534.1,262.5C535.6,263.3 538.0,263.9 539.5,263.4C541.0,262.8 541.6,259.5 543.0,259.2C544.4,258.9 546.2,261.6 547.9,261.7C549.6,261.8 551.3,259.9 553.1,259.8C554.8,259.6 556.8,261.1 558.5,260.9C560.2,260.6 561.6,258.7 563.3,258.3C565.1,258.0 567.9,258.8 568.8,258.9M497.7,293.0C496.8,292.9 494.1,292.5 492.3,292.4C490.4,292.3 488.5,292.0 486.8,292.4C485.0,292.8 483.5,294.1 481.8,294.8C480.1,295.4 478.3,295.9 476.5,296.4C474.8,296.9 472.9,297.2 471.2,297.7C469.4,298.2 467.7,298.8 466.0,299.5C464.3,300.3 462.8,301.3 461.1,302.0C459.4,302.8 457.7,303.5 456.0,304.0C454.2,304.6 452.4,304.9 450.6,305.4C448.9,306.0 447.3,307.0 445.5,307.3C443.7,307.6 441.8,307.3 440.0,307.0C438.2,306.7 436.4,305.7 434.6,305.7C432.8,305.7 431.0,306.4 429.3,306.9C427.5,307.3 425.6,307.7 424.0,308.5C422.4,309.3 420.9,310.5 419.4,311.5C417.9,312.6 416.5,313.7 415.1,314.9C413.6,316.0 412.3,317.4 410.9,318.5C409.4,319.6 408.0,320.9 406.3,321.6C404.7,322.2 402.7,322.3 400.9,322.3C399.1,322.3 395.4,321.5 395.4,321.7C395.4,321.8 399.0,322.6 400.7,323.2C402.4,323.8 404.2,324.4 405.9,325.0C407.6,325.7 409.6,326.0 411.0,327.0C412.4,328.0 413.6,329.7 414.4,331.3C415.2,332.9 415.6,334.8 415.8,336.7C416.0,338.5 415.7,340.3 415.7,342.2C415.6,344.0 415.9,345.9 415.6,347.6C415.3,349.4 414.4,351.1 413.6,352.8C412.8,354.4 411.6,355.9 410.9,357.5C410.1,359.2 409.1,361.0 409.0,362.7C408.9,364.5 409.6,366.4 410.4,368.0C411.2,369.7 413.1,371.7 413.7,372.4M689.1,268.5C688.2,268.8 685.6,269.7 683.9,270.4C682.2,271.0 680.5,271.8 678.7,272.3C677.0,272.8 675.2,273.2 673.4,273.5C671.6,273.7 669.7,273.5 667.9,273.9C666.1,274.3 664.4,275.1 662.8,275.9C661.2,276.8 659.9,278.3 658.3,279.1C656.7,279.9 654.8,280.2 653.1,280.9C651.4,281.6 649.7,282.4 648.2,283.4C646.7,284.5 645.3,285.7 644.0,287.0C642.8,288.3 641.4,289.7 640.5,291.2C639.6,292.8 638.8,294.7 638.7,296.4C638.6,298.2 639.4,300.1 640.1,301.8C640.7,303.4 641.7,305.1 642.7,306.6C643.7,308.1 644.9,309.5 646.2,310.8C647.4,312.2 648.8,313.5 650.2,314.6C651.6,315.8 653.3,316.6 654.7,317.8C656.1,318.9 657.2,320.8 658.8,321.4C660.4,322.1 662.5,321.6 664.3,321.8C666.1,321.9 667.9,322.2 669.7,322.4C671.6,322.6 673.4,323.2 675.2,323.0C677.0,322.9 678.8,322.1 680.5,321.5C682.2,320.9 684.0,320.4 685.6,319.5C687.2,318.5 689.3,315.6 689.8,315.9C690.4,316.3 688.9,319.5 688.8,321.3C688.7,323.2 689.5,326.8 689.5,326.8C689.5,326.8 689.5,322.9 688.7,321.4C687.8,319.8 686.0,318.8 684.5,317.7C683.0,316.7 681.3,315.9 679.8,314.9C678.3,313.9 676.9,312.6 675.3,311.8C673.7,311.0 671.8,310.5 670.0,310.1C668.3,309.7 666.4,309.4 664.6,309.5C662.8,309.6 661.0,310.3 659.2,310.8C657.5,311.4 655.9,312.3 654.1,312.9C652.4,313.6 650.6,313.9 648.9,314.6C647.2,315.3 644.8,316.5 643.9,316.9M406.7,314.3C406.0,313.7 403.7,312.1 402.6,310.7C401.5,309.3 400.8,307.5 399.9,305.9C399.1,304.3 398.3,302.6 397.4,301.0C396.6,299.4 395.6,297.8 394.9,296.1C394.1,294.5 393.1,292.8 392.7,291.1C392.4,289.3 392.7,285.6 393.0,285.6C393.3,285.5 394.6,289.1 394.6,290.8C394.7,292.6 393.8,294.4 393.4,296.2C393.1,298.0 391.8,300.7 392.6,301.6C393.3,302.6 397.4,301.1 398.0,302.1C398.6,303.0 396.4,305.4 396.1,307.2C395.8,309.0 396.3,310.9 396.4,312.7C396.5,314.5 396.5,316.4 396.7,318.2C396.9,320.0 397.6,321.8 397.6,323.6C397.7,325.4 397.4,327.3 397.1,329.1C396.8,330.9 395.7,332.6 395.7,334.4C395.7,336.2 396.3,338.1 397.0,339.7C397.7,341.4 399.1,342.8 399.8,344.5C400.5,346.1 401.1,348.0 401.3,349.8C401.6,351.6 401.5,354.3 401.5,355.3M665.1,349.5C664.2,349.1 661.6,348.2 660.0,347.3C658.5,346.3 657.2,345.0 655.9,343.7C654.7,342.3 653.5,340.9 652.5,339.3C651.6,337.7 651.1,335.9 650.3,334.3C649.6,332.6 649.0,330.8 648.3,329.2C647.5,327.5 646.7,325.8 645.7,324.3C644.7,322.8 643.6,321.2 642.2,320.1C640.7,319.0 638.9,318.2 637.1,317.8C635.4,317.4 632.6,316.9 631.6,317.8C630.7,318.8 631.6,321.6 631.2,323.3C630.8,325.1 629.7,326.7 629.1,328.4C628.6,330.2 628.4,332.1 627.7,333.7C627.0,335.4 626.2,337.2 625.1,338.6C624.0,340.0 622.4,341.1 620.9,342.2C619.4,343.2 617.7,343.9 616.1,344.9C614.6,345.9 613.3,347.2 611.7,348.2C610.2,349.1 608.5,349.9 606.9,350.7C605.2,351.6 602.7,352.7 601.9,353.1M401.4,348.0C402.1,348.7 403.8,351.0 405.4,351.9C406.9,352.8 408.8,353.2 410.6,353.5C412.4,353.9 414.4,353.7 416.1,354.2C417.8,354.8 419.4,355.9 420.8,357.1C422.2,358.2 423.2,359.8 424.7,361.0C426.1,362.1 427.7,363.0 429.4,363.8C431.0,364.6 432.9,365.8 434.6,365.6C436.2,365.4 437.6,363.6 439.1,362.6C440.7,361.5 442.2,360.5 443.7,359.5C445.2,358.4 446.7,357.3 448.2,356.4C449.8,355.5 451.5,354.7 453.2,354.0C454.9,353.3 456.7,353.0 458.4,352.2C460.1,351.5 461.6,350.3 463.2,349.5C464.9,348.7 466.6,348.2 468.3,347.4C470.0,346.7 473.2,345.0 473.3,345.1C473.3,345.2 470.4,347.7 468.8,348.2C467.1,348.7 465.0,348.4 463.3,348.2C461.5,347.9 459.8,346.9 458.0,346.6C456.2,346.3 454.3,346.5 452.5,346.2C450.7,345.9 449.0,344.7 447.2,344.6C445.5,344.5 443.6,345.2 441.9,345.8C440.1,346.3 438.5,347.5 436.8,347.8C435.0,348.1 433.1,347.5 431.3,347.6C429.4,347.7 427.4,347.7 425.8,348.4C424.2,349.1 422.4,350.4 421.5,351.8C420.6,353.3 420.4,355.4 420.5,357.2C420.5,359.0 421.0,361.0 421.8,362.6C422.6,364.2 423.7,366.2 425.2,366.9C426.7,367.6 428.8,366.7 430.7,366.7C432.5,366.6 435.3,366.5 436.2,366.5M440.0,350.8C439.1,350.6 436.4,349.8 434.6,349.7C432.8,349.7 430.9,350.0 429.2,350.6C427.5,351.2 426.0,352.4 424.4,353.4C422.9,354.4 421.5,355.6 419.9,356.5C418.3,357.4 416.5,357.9 415.0,358.9C413.4,359.8 412.1,361.2 410.7,362.4C409.3,363.6 408.0,364.9 406.7,366.1C405.3,367.3 404.0,368.6 402.6,369.8C401.1,370.9 399.4,371.7 398.0,372.9C396.6,374.0 395.4,375.4 394.1,376.7C392.8,378.0 390.1,380.0 390.4,380.8C390.7,381.6 394.1,381.5 395.9,381.4C397.7,381.2 399.4,380.4 401.3,380.2C403.1,380.0 405.1,380.7 406.8,380.3C408.5,379.8 410.4,378.8 411.5,377.4C412.5,376.1 412.3,373.8 413.1,372.2C414.0,370.6 415.2,369.0 416.6,367.9C418.1,366.9 420.0,366.5 421.6,365.7C423.3,364.9 424.8,363.6 426.6,363.2C428.3,362.9 430.3,363.0 432.1,363.5C433.8,364.0 435.2,365.8 436.9,366.1C438.6,366.4 440.8,366.2 442.4,365.5C444.0,364.8 445.2,363.2 446.5,361.9C447.8,360.6 449.5,358.4 450.1,357.7M569.9,274.9C570.6,274.2 572.5,272.1 574.0,271.2C575.6,270.2 577.4,269.6 579.2,269.3C581.0,268.9 582.9,268.7 584.7,269.1C586.4,269.4 588.4,270.1 589.7,271.3C591.0,272.4 592.2,274.3 592.6,276.0C593.0,277.7 592.3,279.6 592.0,281.4C591.7,283.2 590.0,285.9 590.7,286.8C591.4,287.6 594.4,286.3 596.2,286.5C598.0,286.8 599.7,288.0 601.5,288.2C603.2,288.4 605.2,288.2 606.9,287.8C608.7,287.4 610.8,286.9 612.1,285.8C613.4,284.7 613.4,281.7 614.8,281.0C616.2,280.3 618.5,281.2 620.3,281.6C622.1,282.0 623.7,282.8 625.5,283.4C627.2,284.0 628.9,284.7 630.7,285.2C632.4,285.7 634.3,286.5 636.0,286.4C637.8,286.3 639.8,285.6 641.2,284.5C642.6,283.4 643.7,281.7 644.4,280.0C645.0,278.4 645.1,276.3 644.9,274.5C644.8,272.7 642.9,270.5 643.5,269.2C644.1,268.0 646.9,267.8 648.5,266.9C650.1,266.0 651.5,264.3 653.1,264.0C654.8,263.7 656.8,264.7 658.5,265.1C660.3,265.5 663.0,266.2 663.9,266.5M444.4,363.7C443.5,363.7 440.7,364.0 438.9,364.0C437.1,364.1 433.4,364.4 433.4,364.2C433.4,364.1 437.0,363.5 438.8,363.2C440.6,362.8 442.4,362.3 444.2,362.3C446.0,362.3 447.9,363.2 449.7,363.0C451.4,362.7 452.9,360.9 454.7,360.6C456.4,360.4 458.4,361.9 460.1,361.6C461.8,361.3 463.3,359.8 464.8,358.8C466.3,357.7 467.5,356.3 469.0,355.3C470.6,354.4 474.0,352.9 474.1,353.1C474.2,353.3 471.3,355.6 469.7,356.4C468.0,357.2 466.1,357.3 464.3,357.8C462.6,358.2 460.8,358.7 459.0,359.1C457.2,359.6 455.5,360.2 453.7,360.5C451.9,360.7 450.0,361.1 448.2,360.8C446.4,360.5 444.9,359.3 443.2,358.6C441.5,357.9 439.8,357.1 438.0,356.6C436.2,356.2 434.3,356.4 432.6,355.9C430.8,355.4 429.2,354.4 427.6,353.6C426.0,352.7 423.6,351.3 422.8,350.8M444.4,273.1C443.5,273.3 440.8,274.0 439.0,274.2C437.2,274.4 435.3,274.4 433.5,274.4C431.6,274.4 429.8,274.2 428.0,274.1C426.2,274.1 424.3,274.3 422.5,274.3C420.7,274.3 417.4,273.4 417.0,274.2C416.5,274.9 418.6,277.5 419.8,278.9C421.0,280.3 422.8,281.1 424.1,282.4C425.3,283.7 426.6,285.1 427.4,286.7C428.3,288.3 428.8,290.1 429.3,291.9C429.7,293.7 429.5,295.7 430.2,297.3C430.8,299.0 432.0,300.5 433.2,301.9C434.4,303.3 436.1,304.2 437.4,305.5C438.6,306.8 440.0,308.3 440.7,309.9C441.4,311.5 442.0,313.6 441.8,315.3C441.6,317.0 440.7,319.1 439.4,320.2C438.1,321.3 435.9,321.5 434.1,321.8C432.3,322.0 430.4,321.7 428.6,321.8C426.8,321.9 424.9,322.1 423.1,322.2C421.3,322.2 419.4,322.1 417.6,322.0C415.8,322.0 413.9,321.9 412.1,321.9C410.3,321.9 408.4,321.8 406.6,322.0C404.8,322.1 403.0,322.5 401.2,322.8C399.4,323.1 397.6,323.6 395.7,323.8C393.9,323.9 391.1,324.6 390.3,323.7C389.4,322.8 390.1,319.8 390.9,318.2C391.6,316.7 393.4,315.6 394.7,314.3C396.0,313.0 397.2,311.6 398.5,310.4C399.9,309.1 401.4,308.0 402.6,306.6C403.8,305.2 404.8,303.7 405.8,302.1C406.8,300.6 407.9,299.1 408.6,297.4C409.4,295.8 410.2,293.9 410.2,292.2C410.3,290.4 409.9,288.0 408.8,286.9C407.7,285.7 405.1,284.8 403.6,285.1C402.1,285.5 400.7,287.6 399.7,289.1C398.8,290.6 398.2,293.4 397.9,294.3M687.8,389.6C687.2,388.9 685.0,387.2 683.8,385.8C682.6,384.4 681.7,382.8 680.6,381.3C679.6,379.8 678.6,378.3 677.6,376.7C676.5,375.2 675.6,373.6 674.4,372.2C673.3,370.8 671.9,369.5 670.6,368.3C669.2,367.1 667.6,366.1 666.1,365.1C664.6,364.1 663.1,363.0 661.4,362.2C659.8,361.5 657.9,361.1 656.2,360.5C654.5,359.9 652.7,359.4 651.0,358.8C649.2,358.2 647.5,357.5 645.8,356.9C644.0,356.4 642.2,356.1 640.5,355.4C638.9,354.6 637.2,353.6 635.9,352.4C634.6,351.2 633.5,349.6 632.5,348.0C631.5,346.5 630.7,344.9 629.8,343.3C628.9,341.7 628.1,340.0 627.1,338.5C626.1,337.0 624.6,335.8 623.6,334.2C622.6,332.7 621.6,331.0 621.2,329.3C620.7,327.6 620.9,325.6 621.0,323.8C621.0,322.0 622.2,319.8 621.6,318.3C621.0,316.8 618.9,315.7 617.3,314.9C615.7,314.0 613.9,313.2 612.1,313.0C610.4,312.7 608.5,313.1 606.7,313.4C604.8,313.6 603.1,314.3 601.3,314.5C599.4,314.6 597.6,314.3 595.8,314.4C593.9,314.6 591.5,314.3 590.3,315.3C589.2,316.3 588.9,318.8 588.8,320.6C588.8,322.4 589.3,324.4 590.1,326.0C590.9,327.5 592.3,329.0 593.8,330.0C595.3,331.0 597.2,331.8 598.9,332.0C600.7,332.2 602.6,331.5 604.4,331.2C606.2,330.8 607.9,330.2 609.8,330.0C611.6,329.9 613.5,330.3 615.3,330.0C617.1,329.8 618.8,329.2 620.6,328.6C622.3,328.1 624.0,327.1 625.7,326.7C627.5,326.3 629.4,326.3 631.2,326.2C633.0,326.1 634.9,325.8 636.7,326.1C638.5,326.3 640.2,327.1 642.0,327.7C643.7,328.3 646.2,329.4 647.1,329.7M588.9,296.2C589.7,295.8 592.2,294.1 593.9,294.0C595.7,293.9 597.4,295.2 599.2,295.7C600.9,296.2 602.7,296.6 604.5,296.9C606.4,297.2 608.2,297.6 610.0,297.6C611.8,297.6 613.7,297.6 615.5,297.1C617.2,296.5 620.3,294.4 620.4,294.5C620.5,294.7 617.4,296.8 616.1,298.0C614.8,299.3 613.9,301.0 612.4,302.1C611.0,303.1 609.1,304.2 607.4,304.4C605.7,304.5 603.9,303.3 602.1,302.9C600.3,302.5 598.5,302.2 596.7,302.0C594.9,301.8 592.4,301.0 591.2,301.8C590.0,302.7 589.6,305.3 589.4,307.0C589.3,308.8 589.8,310.8 590.5,312.4C591.1,314.1 592.2,315.8 593.4,317.1C594.7,318.3 596.6,318.9 598.2,319.9C599.8,320.8 601.3,321.8 602.9,322.7C604.5,323.6 606.2,324.3 607.8,325.1C609.5,325.9 611.1,326.8 612.8,327.4C614.5,328.1 617.2,328.8 618.1,329.0M463.7,342.6C462.9,343.0 460.5,344.6 458.8,345.2C457.1,345.7 455.2,345.9 453.4,345.9C451.6,345.9 449.6,345.7 447.9,345.0C446.3,344.2 444.7,342.9 443.7,341.5C442.7,340.0 442.1,338.1 441.9,336.3C441.7,334.5 441.8,332.5 442.5,330.8C443.1,329.2 444.5,327.7 445.7,326.4C447.0,325.1 448.5,323.8 450.2,323.1C451.8,322.5 453.8,322.5 455.6,322.6C457.5,322.7 459.2,323.3 461.0,323.7C462.8,324.1 464.7,324.3 466.4,324.9C468.1,325.5 470.0,327.5 471.4,327.2C472.8,326.9 474.1,324.6 475.0,323.0C475.9,321.4 476.0,319.4 476.9,317.8C477.8,316.3 478.8,314.5 480.3,313.5C481.7,312.4 483.6,312.0 485.4,311.5C487.2,311.1 489.0,311.1 490.9,310.9C492.7,310.8 494.6,310.4 496.4,310.6C498.1,310.8 500.0,311.5 501.6,312.3C503.2,313.1 505.0,315.8 506.1,315.4C507.2,315.1 508.0,312.0 508.0,310.3C508.0,308.5 506.8,306.8 506.3,305.0C505.8,303.3 505.4,301.5 504.9,299.7C504.4,298.0 503.4,295.4 503.1,294.5M391.1,341.2C392.0,340.9 394.7,340.0 396.2,339.0C397.7,338.0 399.5,336.9 400.3,335.4C401.2,333.9 401.1,331.8 401.3,330.0C401.6,328.2 401.6,326.3 402.0,324.5C402.5,322.8 403.1,321.0 403.9,319.4C404.7,317.7 405.5,315.9 406.7,314.7C408.0,313.4 410.1,313.0 411.5,311.9C413.0,310.8 414.2,309.4 415.4,308.0C416.6,306.7 417.6,305.0 419.0,303.8C420.4,302.7 422.1,302.0 423.8,301.2C425.4,300.3 427.0,299.5 428.8,298.9C430.5,298.2 432.3,297.9 434.1,297.4C435.9,297.0 437.7,296.7 439.5,296.4C441.3,296.1 443.1,295.5 444.9,295.4C446.7,295.3 448.6,295.6 450.4,295.8C452.2,296.1 454.0,296.4 455.8,297.0C457.5,297.6 459.1,298.6 460.7,299.5C462.3,300.4 463.7,301.5 465.3,302.4C466.9,303.3 468.6,304.1 470.2,305.0C471.8,305.8 475.2,306.5 475.2,307.3C475.2,308.0 471.8,308.6 470.1,309.4C468.4,310.2 466.9,311.2 465.2,312.0C463.6,312.7 461.9,313.7 460.1,314.0C458.4,314.3 456.4,314.1 454.6,313.8C452.8,313.5 451.2,312.5 449.4,312.1C447.6,311.8 445.7,311.9 443.9,311.7C442.1,311.5 440.3,311.1 438.5,310.8C436.7,310.5 434.8,310.3 433.0,310.0C431.2,309.7 429.4,309.2 427.6,309.1C425.8,309.0 423.8,308.8 422.1,309.2C420.4,309.7 418.6,310.7 417.3,312.0C416.1,313.2 415.3,315.1 414.7,316.8C414.1,318.5 413.7,320.5 413.9,322.3C414.1,324.0 414.7,326.5 415.9,327.4C417.1,328.3 419.6,327.8 421.4,327.7C423.2,327.5 425.1,327.1 426.7,326.3C428.3,325.5 429.8,324.1 430.9,322.7C432.0,321.3 432.6,319.5 433.4,317.8C434.3,316.2 435.7,314.6 435.9,312.9C436.1,311.2 434.9,308.4 434.7,307.5M531.0,278.4C530.3,277.7 527.0,275.9 527.0,274.6C526.9,273.3 529.4,271.8 530.6,270.4C531.8,269.1 532.9,267.6 534.1,266.2C535.3,264.8 536.4,263.3 537.8,262.2C539.2,261.1 542.0,259.1 542.6,259.5C543.2,260.0 542.4,263.4 541.5,264.9C540.5,266.3 538.7,267.3 537.1,268.3C535.6,269.3 534.0,270.2 532.3,270.9C530.7,271.7 528.9,272.2 527.2,272.9C525.5,273.6 523.8,274.4 522.2,275.3C520.6,276.2 519.3,277.6 517.6,278.3C516.0,279.0 512.3,279.8 512.3,279.7C512.3,279.6 515.7,277.6 517.4,277.6C519.1,277.6 521.6,279.3 522.5,279.7M416.1,317.4C417.0,317.2 419.8,316.4 421.6,316.7C423.3,316.9 424.9,318.1 426.7,318.7C428.4,319.4 430.3,319.7 431.8,320.5C433.4,321.4 434.6,323.0 436.2,323.9C437.8,324.8 439.5,325.7 441.2,326.1C443.0,326.5 444.9,326.3 446.7,326.3C448.6,326.3 450.4,326.2 452.2,326.2C454.1,326.2 455.9,326.3 457.7,326.2C459.6,326.0 461.4,325.7 463.2,325.3C465.0,325.0 466.7,324.4 468.5,324.2C470.4,323.9 472.4,323.5 474.0,324.0C475.7,324.5 477.1,326.0 478.4,327.3C479.7,328.6 480.5,330.5 481.9,331.6C483.2,332.8 485.0,333.9 486.7,334.2C488.4,334.5 490.6,334.2 492.2,333.5C493.8,332.8 496.5,331.0 496.5,330.0C496.4,329.0 493.4,327.7 491.6,327.3C489.9,327.0 487.8,327.3 486.2,327.9C484.5,328.6 483.4,330.3 481.9,331.4C480.4,332.4 478.8,333.4 477.2,334.3C475.6,335.1 473.9,335.9 472.2,336.6C470.5,337.3 468.6,337.6 467.0,338.4C465.4,339.2 463.6,340.2 462.5,341.6C461.4,342.9 460.8,344.9 460.3,346.6C459.9,348.4 460.1,350.3 460.0,352.1C459.8,353.9 459.8,355.8 459.5,357.6C459.2,359.4 459.0,361.6 457.9,362.9C456.8,364.1 454.4,365.0 452.8,364.9C451.2,364.7 449.8,362.7 448.2,361.9C446.5,361.1 444.6,359.8 443.0,360.1C441.4,360.4 440.1,362.4 438.6,363.5C437.1,364.6 434.9,366.1 434.1,366.7M592.6,258.2C592.6,259.2 592.1,262.1 592.7,263.7C593.2,265.4 594.6,266.9 595.8,268.3C596.9,269.7 598.2,271.0 599.5,272.3C600.8,273.6 602.0,275.1 603.4,276.1C604.9,277.2 607.1,277.4 608.4,278.6C609.6,279.9 610.2,281.8 610.8,283.6C611.4,285.3 611.4,287.2 611.8,289.0C612.2,290.8 612.6,292.6 613.2,294.3C613.9,296.0 614.8,297.6 615.6,299.2C616.4,300.9 617.0,302.6 617.9,304.2C618.7,305.9 619.6,307.5 620.6,309.0C621.6,310.6 622.7,312.0 623.8,313.5C624.8,315.0 625.6,316.8 627.0,318.0C628.3,319.2 630.1,320.1 631.8,320.6C633.5,321.2 635.4,321.3 637.3,321.3C639.1,321.2 641.0,321.0 642.7,320.4C644.4,319.9 646.0,318.8 647.6,317.9C649.1,317.0 650.7,316.0 652.2,314.9C653.7,313.9 655.2,312.7 656.5,311.5C657.8,310.2 658.8,308.6 660.2,307.4C661.6,306.3 663.2,305.0 664.9,304.6C666.6,304.2 668.6,304.5 670.4,304.8C672.2,305.1 673.9,305.8 675.7,306.3C677.5,306.7 680.2,307.2 681.1,307.4M471.6,308.7C472.5,308.4 475.1,307.5 476.9,307.1C478.7,306.7 480.6,306.9 482.4,306.4C484.1,306.0 485.8,305.0 487.5,304.5C489.3,304.1 491.5,303.2 493.0,303.8C494.4,304.4 495.5,306.6 496.2,308.2C496.8,309.9 496.9,311.9 496.8,313.7C496.7,315.5 496.2,317.3 495.7,319.1C495.2,320.9 494.5,322.5 493.8,324.3C493.2,326.0 492.5,327.7 492.1,329.5C491.6,331.2 491.6,333.1 491.2,334.9C490.7,336.7 489.9,338.3 489.3,340.1C488.7,341.8 488.6,345.0 487.6,345.3C486.6,345.6 484.4,343.4 483.1,342.1C481.9,340.8 480.6,339.2 480.1,337.5C479.6,335.8 479.4,333.4 480.2,332.0C481.0,330.6 483.2,329.3 484.9,329.1C486.5,328.9 488.9,329.7 490.1,330.9C491.3,332.0 491.8,334.3 492.0,336.0C492.1,337.8 491.7,339.8 490.9,341.4C490.2,343.0 488.5,344.2 487.4,345.7C486.3,347.2 485.5,348.8 484.5,350.3C483.5,351.9 481.2,354.0 481.6,355.0C482.0,356.0 485.4,356.7 487.0,356.3C488.5,355.8 490.1,353.0 490.8,352.3M510.6,270.8C511.0,270.0 512.0,267.3 513.2,266.0C514.4,264.6 516.0,263.5 517.6,262.6C519.1,261.7 520.9,261.0 522.5,260.3C524.2,259.6 527.5,258.1 527.7,258.3C527.8,258.5 524.6,260.3 523.3,261.6C522.0,262.9 521.3,264.7 520.0,266.0C518.8,267.4 517.0,268.2 515.7,269.5C514.4,270.8 513.3,272.2 512.2,273.7C511.2,275.2 510.3,276.9 509.3,278.4C508.2,279.9 507.2,282.5 505.9,282.7C504.6,282.9 503.0,280.3 501.5,279.4C499.9,278.5 496.8,278.3 496.4,277.2C496.1,276.0 498.1,273.9 499.1,272.4C500.2,270.9 501.4,269.4 502.8,268.3C504.2,267.1 506.2,266.8 507.6,265.6C509.0,264.5 511.3,261.6 511.2,261.5C511.1,261.4 508.6,264.1 507.1,265.1C505.6,266.2 503.9,267.1 502.2,267.6C500.5,268.2 498.6,268.2 496.8,268.3C494.9,268.4 493.1,268.3 491.3,268.4C489.4,268.5 487.6,268.8 485.8,269.0C484.0,269.1 480.5,270.0 480.3,269.5C480.1,268.9 482.9,266.8 484.4,265.8C485.9,264.8 488.6,264.0 489.5,263.7M427.8,355.8C428.2,355.1 429.4,352.5 430.5,351.1C431.6,349.6 432.9,348.1 434.4,347.1C435.8,346.1 437.7,345.6 439.4,345.0C441.2,344.5 443.0,344.4 444.8,344.0C446.6,343.7 448.5,343.5 450.2,343.0C452.0,342.5 453.7,341.7 455.3,340.9C457.0,340.1 458.6,339.3 460.2,338.4C461.8,337.5 463.3,336.2 464.9,335.6C466.6,334.9 468.5,334.6 470.3,334.5C472.1,334.4 474.1,334.6 475.8,335.1C477.5,335.6 479.0,337.0 480.7,337.7C482.3,338.4 484.2,338.6 485.9,339.3C487.6,340.0 489.1,341.1 490.7,342.0C492.3,342.9 494.0,343.6 495.6,344.6C497.2,345.5 498.7,346.6 500.2,347.5C501.8,348.4 503.4,349.3 505.1,350.0C506.8,350.7 510.1,352.1 510.4,351.7C510.7,351.2 508.4,348.4 507.0,347.3C505.5,346.3 503.5,346.1 501.8,345.6C500.0,345.0 497.8,345.2 496.4,344.2C495.1,343.2 494.6,341.1 493.7,339.4C492.9,337.8 491.9,336.2 491.5,334.4C491.0,332.7 491.0,330.8 490.9,329.0C490.7,327.1 490.6,325.3 490.3,323.5C490.1,321.7 489.7,319.9 489.4,318.1C489.0,316.3 488.7,314.5 488.3,312.7C488.0,310.9 487.5,309.1 487.3,307.3C487.0,305.4 487.0,303.6 486.8,301.8C486.5,300.0 485.9,298.2 485.9,296.4C485.8,294.5 486.0,292.7 486.2,290.9C486.4,289.1 486.7,287.2 487.1,285.4C487.4,283.6 488.0,281.9 488.3,280.1C488.6,278.3 488.7,276.4 489.0,274.6C489.2,272.8 489.7,271.0 489.7,269.2C489.8,267.3 488.6,264.9 489.4,263.7C490.2,262.4 492.8,262.3 494.5,261.7C496.3,261.2 498.1,260.5 499.9,260.4C501.7,260.3 504.4,260.9 505.3,261.0M646.5,346.7C646.9,345.9 648.8,343.7 649.4,342.0C650.0,340.3 650.2,338.4 650.3,336.6C650.4,334.8 650.3,332.9 650.0,331.1C649.7,329.3 649.0,327.6 648.4,325.8C647.8,324.1 646.9,322.5 646.4,320.7C645.9,319.0 645.7,317.1 645.3,315.3C644.9,313.5 644.5,311.7 643.9,310.0C643.3,308.3 642.5,306.6 641.7,305.0C640.9,303.3 640.1,301.7 639.2,300.1C638.4,298.4 637.5,296.8 636.6,295.2C635.7,293.6 633.4,291.8 633.7,290.6C633.9,289.3 636.6,287.9 638.2,287.5C639.9,287.2 642.0,287.7 643.7,288.3C645.4,289.0 647.0,290.1 648.2,291.5C649.4,292.8 650.0,294.7 650.9,296.3C651.8,297.9 652.9,299.4 653.5,301.1C654.0,302.9 653.9,304.8 654.0,306.6C654.1,308.4 654.6,310.5 653.9,312.1C653.3,313.7 651.7,315.2 650.2,316.1C648.6,317.0 646.7,317.3 644.9,317.6C643.1,317.9 641.2,317.9 639.4,317.7C637.6,317.5 634.9,316.6 634.0,316.4M389.4,279.0C390.8,278.4 394.7,277.0 398.0,275.7C401.3,274.4 406.4,273.1 409.0,271.3C411.6,269.5 412.0,266.9 413.5,264.7C415.0,262.5 415.6,259.4 417.8,258.0C420.0,256.6 424.1,256.5 426.6,256.0C429.1,255.5 431.5,254.4 433.0,254.9C434.5,255.4 435.6,257.8 435.4,259.2C435.2,260.6 431.6,262.3 432.0,263.6C432.4,264.9 435.1,265.4 437.5,267.0C439.9,268.6 443.4,273.2 446.3,273.5C449.2,273.8 452.4,270.6 455.0,269.0C457.6,267.4 459.4,264.3 461.6,263.6C463.8,262.9 466.2,263.8 468.0,264.7C469.8,265.6 471.8,268.3 472.6,269.0M481.3,269.0C481.1,268.1 479.5,265.2 480.2,263.6C480.9,262.0 483.3,260.3 485.7,259.2C488.1,258.1 491.6,256.8 494.5,257.0C497.4,257.2 500.1,259.4 503.0,260.3C505.9,261.2 509.0,262.5 512.0,262.5C515.0,262.5 519.3,260.7 520.8,260.3M612.7,254.6C613.7,255.3 616.2,258.0 618.6,259.0C621.0,260.0 624.4,260.6 627.3,260.4C630.2,260.1 632.8,258.4 636.0,257.5C639.2,256.6 643.6,255.3 646.3,255.3C649.0,255.3 650.8,255.9 652.0,257.5C653.2,259.1 652.9,263.1 653.6,264.8C654.4,266.5 656.0,267.2 656.5,267.7M611.0,266.3C612.3,266.5 615.9,266.9 618.6,267.7C621.3,268.5 624.9,270.4 627.3,271.4C629.7,272.4 632.0,273.2 633.0,273.6" fill="none" stroke="#6a8e93" stroke-width="2.3" stroke-linecap="round" stroke-linejoin="round"/>
<path d="M687.6,267.7C687.7,268.6 688.3,271.5 687.7,273.2C687.1,274.8 685.2,275.9 684.3,277.5C683.4,279.0 682.6,280.8 682.2,282.5C681.7,284.3 681.7,286.2 681.5,288.0C681.4,289.8 680.4,292.8 681.2,293.5C682.0,294.2 685.1,293.0 686.5,292.0C687.9,291.1 689.6,289.2 689.7,287.6C689.9,286.0 688.3,284.2 687.4,282.6C686.5,281.0 685.2,279.6 684.4,278.0C683.5,276.4 683.1,274.5 682.2,273.0C681.3,271.4 680.1,269.8 678.8,268.7C677.4,267.5 675.6,266.8 674.0,266.0C672.3,265.2 669.1,263.5 669.0,263.6C669.0,263.7 672.3,265.3 673.7,266.5C675.0,267.7 676.5,269.2 677.1,270.8C677.7,272.4 677.6,274.5 677.3,276.3C677.0,278.1 676.1,279.8 675.2,281.4C674.4,283.0 673.3,284.5 672.2,286.0C671.2,287.5 670.1,289.0 669.0,290.4C667.9,291.9 666.8,293.5 665.5,294.7C664.1,295.9 661.6,297.1 660.8,297.6M416.5,285.7C417.3,285.3 419.6,283.8 421.3,283.1C423.0,282.4 424.7,281.8 426.5,281.4C428.3,281.1 430.4,280.5 432.0,281.0C433.7,281.5 435.7,282.8 436.4,284.3C437.1,285.7 436.9,288.2 436.2,289.7C435.5,291.3 433.9,292.9 432.3,293.7C430.8,294.5 428.6,294.9 426.9,294.6C425.2,294.2 423.8,292.6 422.3,291.5C420.8,290.4 419.5,289.2 418.1,288.0C416.7,286.8 415.5,285.4 414.1,284.2C412.7,283.0 411.2,281.9 409.6,281.0C408.0,280.2 406.2,279.8 404.5,279.1C402.8,278.5 399.5,276.7 399.4,276.9C399.3,277.1 402.4,279.0 403.8,280.3C405.2,281.5 406.2,283.1 407.7,284.1C409.2,285.2 411.0,285.8 412.7,286.3C414.5,286.9 416.3,287.3 418.1,287.4C419.9,287.5 421.8,286.9 423.6,286.9C425.4,286.8 427.3,286.7 429.1,287.1C430.9,287.5 432.6,288.3 434.2,289.2C435.7,290.1 437.2,291.3 438.6,292.4C440.1,293.6 441.2,295.0 442.7,296.2C444.1,297.3 445.5,298.7 447.1,299.4C448.7,300.1 450.8,300.7 452.5,300.4C454.2,300.1 455.7,298.6 457.1,297.4C458.5,296.2 460.2,294.0 460.8,293.4M421.5,311.6C422.1,312.3 423.9,314.4 425.0,315.8C426.2,317.3 427.6,318.7 428.2,320.3C428.8,322.0 429.2,324.2 428.7,325.8C428.2,327.4 426.2,328.5 425.2,330.1C424.2,331.6 423.5,333.3 422.9,335.0C422.2,336.7 421.6,338.5 421.3,340.3C421.0,342.1 421.0,344.0 420.9,345.8C420.9,347.6 421.3,349.5 420.9,351.3C420.6,353.1 420.0,355.0 418.9,356.4C417.8,357.8 416.0,359.2 414.3,359.4C412.7,359.7 410.8,358.2 409.0,357.9C407.2,357.6 405.3,357.4 403.5,357.6C401.7,357.8 398.2,358.9 398.2,359.1C398.3,359.3 401.9,359.0 403.7,359.0C405.6,359.0 407.5,358.5 409.2,358.9C411.0,359.2 412.8,359.9 414.3,360.9C415.8,361.9 416.6,364.2 418.1,364.9C419.7,365.6 423.6,364.9 423.6,365.1C423.6,365.3 419.9,366.2 418.2,365.9C416.5,365.6 414.3,364.6 413.4,363.3C412.4,361.9 412.3,359.7 412.2,357.9C412.2,356.1 412.9,354.3 413.2,352.5C413.5,350.7 413.9,348.9 414.1,347.0C414.4,345.2 415.0,343.4 415.0,341.6C415.0,339.8 414.7,337.9 414.1,336.2C413.6,334.4 412.1,332.1 411.7,331.3M432.6,338.5C432.5,337.6 432.6,334.7 432.0,333.1C431.4,331.4 430.1,329.9 429.2,328.3C428.2,326.8 427.7,324.9 426.5,323.5C425.3,322.2 423.5,321.4 422.0,320.3C420.5,319.2 419.1,318.0 417.7,316.9C416.3,315.8 414.5,314.9 413.4,313.5C412.3,312.1 411.1,310.2 411.0,308.5C410.8,306.8 411.4,304.7 412.4,303.2C413.3,301.8 415.2,300.8 416.7,299.8C418.1,298.7 419.8,297.8 421.3,296.8C422.8,295.8 424.3,294.7 425.8,293.7C427.3,292.7 428.8,291.4 430.4,290.7C432.1,290.0 434.1,290.0 435.8,289.3C437.4,288.5 438.7,287.1 440.2,286.0C441.7,285.0 444.0,282.7 444.8,283.1C445.7,283.5 445.4,286.7 445.4,288.5C445.4,290.4 444.9,292.2 445.0,294.0C445.1,295.8 445.6,297.7 446.3,299.4C447.0,301.1 448.3,302.5 449.0,304.1C449.8,305.8 450.0,307.7 450.6,309.4C451.2,311.2 451.5,313.0 452.4,314.6C453.2,316.2 454.4,318.0 455.8,318.9C457.3,319.8 459.5,320.4 461.2,320.1C462.9,319.8 464.5,318.4 466.0,317.4C467.4,316.3 468.5,314.6 470.1,313.7C471.7,312.9 473.6,312.4 475.4,312.2C477.2,312.1 479.1,312.3 480.9,312.7C482.6,313.0 484.8,313.3 486.1,314.3C487.4,315.4 488.1,317.4 488.9,319.1C489.7,320.7 490.3,323.4 490.6,324.3M689.0,275.5C688.9,276.4 688.4,279.1 688.4,281.0C688.4,282.8 689.0,284.6 689.0,286.4C689.1,288.2 689.5,290.4 688.7,291.9C688.0,293.4 685.9,294.3 684.5,295.4C683.1,296.6 681.6,297.7 680.1,298.7C678.6,299.8 677.1,300.8 675.5,301.7C674.0,302.7 672.5,303.8 670.8,304.7C669.2,305.5 667.4,306.0 665.7,306.7C664.0,307.3 662.3,308.1 660.6,308.6C658.8,309.1 657.0,309.3 655.2,309.6C653.4,309.9 651.6,310.3 649.7,310.4C647.9,310.6 646.1,310.4 644.2,310.3C642.4,310.2 640.6,310.2 638.7,310.1C636.9,309.9 635.1,309.8 633.3,309.5C631.5,309.2 629.7,308.6 627.9,308.3C626.1,308.0 624.2,307.8 622.4,307.8C620.6,307.8 618.7,307.8 617.0,308.4C615.2,308.9 613.8,310.5 612.1,311.0C610.4,311.5 608.3,311.9 606.6,311.5C605.0,311.1 602.7,309.1 602.0,308.6M561.4,266.4C562.1,266.9 564.3,268.6 566.0,269.4C567.6,270.1 569.5,270.5 571.3,270.7C573.1,271.0 575.0,271.0 576.8,270.7C578.6,270.4 580.2,269.4 582.0,268.9C583.8,268.4 585.6,268.2 587.4,267.8C589.2,267.4 590.9,266.9 592.7,266.5C594.5,266.2 596.4,265.8 598.2,265.8C600.0,265.9 601.8,266.3 603.6,266.8C605.4,267.3 606.9,268.4 608.7,268.8C610.5,269.3 612.3,269.4 614.2,269.6C616.0,269.7 617.8,269.7 619.7,269.7C621.5,269.7 623.3,269.5 625.2,269.5C627.0,269.6 628.8,269.8 630.6,270.1C632.4,270.4 634.2,271.0 636.0,271.5C637.7,271.9 639.4,272.7 641.2,273.0C643.0,273.2 644.9,273.1 646.7,273.1C648.6,273.2 650.6,272.7 652.2,273.3C653.9,273.8 655.4,275.3 656.6,276.6C657.8,277.9 658.7,279.7 659.4,281.3C660.2,283.0 660.6,284.8 661.0,286.6C661.4,288.4 661.3,290.3 661.7,292.1C662.1,293.8 662.9,295.5 663.5,297.3C664.0,299.0 664.4,300.8 665.0,302.5C665.6,304.3 666.2,306.0 667.0,307.6C667.9,309.3 669.0,310.7 670.0,312.3C670.9,313.9 672.0,315.4 672.6,317.1C673.2,318.8 673.2,320.8 673.5,322.6C673.9,324.4 674.3,326.2 674.5,328.0C674.8,329.8 674.8,331.6 675.2,333.4C675.6,335.2 676.8,336.8 677.0,338.6C677.2,340.4 676.7,342.3 676.4,344.1C676.1,345.9 675.9,347.8 675.2,349.5C674.5,351.1 673.2,352.5 672.0,353.9C670.9,355.4 669.7,356.9 668.3,358.0C666.9,359.2 665.2,360.5 663.5,360.7C661.9,360.9 659.2,359.4 658.3,359.1M402.6,275.4C403.5,275.4 406.2,275.0 408.0,275.0C409.9,274.9 411.7,275.2 413.5,275.0C415.4,274.8 417.1,274.0 418.9,273.9C420.7,273.8 422.8,273.6 424.4,274.2C426.0,274.9 427.0,276.9 428.6,277.8C430.2,278.7 432.1,279.6 433.8,279.5C435.5,279.5 437.5,278.5 438.9,277.5C440.4,276.5 441.2,273.9 442.7,273.5C444.2,273.1 446.2,274.8 448.0,275.1C449.8,275.3 451.7,274.9 453.5,275.0C455.3,275.0 457.2,275.4 459.0,275.3C460.8,275.1 462.7,274.8 464.4,274.1C466.0,273.3 468.0,270.5 468.8,270.9C469.6,271.2 468.8,274.6 469.1,276.4C469.4,278.1 469.5,280.7 470.7,281.6C471.9,282.5 474.4,282.0 476.2,281.8C478.0,281.6 479.9,281.1 481.6,280.4C483.2,279.7 484.6,278.4 486.2,277.4C487.7,276.3 489.2,275.3 490.6,274.1C491.9,272.9 492.9,271.2 494.3,270.0C495.7,268.9 497.4,268.1 499.1,267.3C500.7,266.6 502.6,266.3 504.3,265.5C505.9,264.8 507.3,263.3 508.9,262.6C510.6,261.9 512.5,261.8 514.3,261.4C516.1,260.9 517.8,260.4 519.6,260.0C521.4,259.6 523.2,259.4 525.0,259.1C526.9,258.8 529.0,257.7 530.5,258.3C532.0,258.9 532.6,261.6 534.1,262.5C535.6,263.3 538.0,263.9 539.5,263.4C541.0,262.8 541.6,259.5 543.0,259.2C544.4,258.9 546.2,261.6 547.9,261.7C549.6,261.8 551.3,259.9 553.1,259.8C554.8,259.6 556.8,261.1 558.5,260.9C560.2,260.6 561.6,258.7 563.3,258.3C565.1,258.0 567.9,258.8 568.8,258.9M497.7,293.0C496.8,292.9 494.1,292.5 492.3,292.4C490.4,292.3 488.5,292.0 486.8,292.4C485.0,292.8 483.5,294.1 481.8,294.8C480.1,295.4 478.3,295.9 476.5,296.4C474.8,296.9 472.9,297.2 471.2,297.7C469.4,298.2 467.7,298.8 466.0,299.5C464.3,300.3 462.8,301.3 461.1,302.0C459.4,302.8 457.7,303.5 456.0,304.0C454.2,304.6 452.4,304.9 450.6,305.4C448.9,306.0 447.3,307.0 445.5,307.3C443.7,307.6 441.8,307.3 440.0,307.0C438.2,306.7 436.4,305.7 434.6,305.7C432.8,305.7 431.0,306.4 429.3,306.9C427.5,307.3 425.6,307.7 424.0,308.5C422.4,309.3 420.9,310.5 419.4,311.5C417.9,312.6 416.5,313.7 415.1,314.9C413.6,316.0 412.3,317.4 410.9,318.5C409.4,319.6 408.0,320.9 406.3,321.6C404.7,322.2 402.7,322.3 400.9,322.3C399.1,322.3 395.4,321.5 395.4,321.7C395.4,321.8 399.0,322.6 400.7,323.2C402.4,323.8 404.2,324.4 405.9,325.0C407.6,325.7 409.6,326.0 411.0,327.0C412.4,328.0 413.6,329.7 414.4,331.3C415.2,332.9 415.6,334.8 415.8,336.7C416.0,338.5 415.7,340.3 415.7,342.2C415.6,344.0 415.9,345.9 415.6,347.6C415.3,349.4 414.4,351.1 413.6,352.8C412.8,354.4 411.6,355.9 410.9,357.5C410.1,359.2 409.1,361.0 409.0,362.7C408.9,364.5 409.6,366.4 410.4,368.0C411.2,369.7 413.1,371.7 413.7,372.4M689.1,268.5C688.2,268.8 685.6,269.7 683.9,270.4C682.2,271.0 680.5,271.8 678.7,272.3C677.0,272.8 675.2,273.2 673.4,273.5C671.6,273.7 669.7,273.5 667.9,273.9C666.1,274.3 664.4,275.1 662.8,275.9C661.2,276.8 659.9,278.3 658.3,279.1C656.7,279.9 654.8,280.2 653.1,280.9C651.4,281.6 649.7,282.4 648.2,283.4C646.7,284.5 645.3,285.7 644.0,287.0C642.8,288.3 641.4,289.7 640.5,291.2C639.6,292.8 638.8,294.7 638.7,296.4C638.6,298.2 639.4,300.1 640.1,301.8C640.7,303.4 641.7,305.1 642.7,306.6C643.7,308.1 644.9,309.5 646.2,310.8C647.4,312.2 648.8,313.5 650.2,314.6C651.6,315.8 653.3,316.6 654.7,317.8C656.1,318.9 657.2,320.8 658.8,321.4C660.4,322.1 662.5,321.6 664.3,321.8C666.1,321.9 667.9,322.2 669.7,322.4C671.6,322.6 673.4,323.2 675.2,323.0C677.0,322.9 678.8,322.1 680.5,321.5C682.2,320.9 684.0,320.4 685.6,319.5C687.2,318.5 689.3,315.6 689.8,315.9C690.4,316.3 688.9,319.5 688.8,321.3C688.7,323.2 689.5,326.8 689.5,326.8C689.5,326.8 689.5,322.9 688.7,321.4C687.8,319.8 686.0,318.8 684.5,317.7C683.0,316.7 681.3,315.9 679.8,314.9C678.3,313.9 676.9,312.6 675.3,311.8C673.7,311.0 671.8,310.5 670.0,310.1C668.3,309.7 666.4,309.4 664.6,309.5C662.8,309.6 661.0,310.3 659.2,310.8C657.5,311.4 655.9,312.3 654.1,312.9C652.4,313.6 650.6,313.9 648.9,314.6C647.2,315.3 644.8,316.5 643.9,316.9M406.7,314.3C406.0,313.7 403.7,312.1 402.6,310.7C401.5,309.3 400.8,307.5 399.9,305.9C399.1,304.3 398.3,302.6 397.4,301.0C396.6,299.4 395.6,297.8 394.9,296.1C394.1,294.5 393.1,292.8 392.7,291.1C392.4,289.3 392.7,285.6 393.0,285.6C393.3,285.5 394.6,289.1 394.6,290.8C394.7,292.6 393.8,294.4 393.4,296.2C393.1,298.0 391.8,300.7 392.6,301.6C393.3,302.6 397.4,301.1 398.0,302.1C398.6,303.0 396.4,305.4 396.1,307.2C395.8,309.0 396.3,310.9 396.4,312.7C396.5,314.5 396.5,316.4 396.7,318.2C396.9,320.0 397.6,321.8 397.6,323.6C397.7,325.4 397.4,327.3 397.1,329.1C396.8,330.9 395.7,332.6 395.7,334.4C395.7,336.2 396.3,338.1 397.0,339.7C397.7,341.4 399.1,342.8 399.8,344.5C400.5,346.1 401.1,348.0 401.3,349.8C401.6,351.6 401.5,354.3 401.5,355.3M665.1,349.5C664.2,349.1 661.6,348.2 660.0,347.3C658.5,346.3 657.2,345.0 655.9,343.7C654.7,342.3 653.5,340.9 652.5,339.3C651.6,337.7 651.1,335.9 650.3,334.3C649.6,332.6 649.0,330.8 648.3,329.2C647.5,327.5 646.7,325.8 645.7,324.3C644.7,322.8 643.6,321.2 642.2,320.1C640.7,319.0 638.9,318.2 637.1,317.8C635.4,317.4 632.6,316.9 631.6,317.8C630.7,318.8 631.6,321.6 631.2,323.3C630.8,325.1 629.7,326.7 629.1,328.4C628.6,330.2 628.4,332.1 627.7,333.7C627.0,335.4 626.2,337.2 625.1,338.6C624.0,340.0 622.4,341.1 620.9,342.2C619.4,343.2 617.7,343.9 616.1,344.9C614.6,345.9 613.3,347.2 611.7,348.2C610.2,349.1 608.5,349.9 606.9,350.7C605.2,351.6 602.7,352.7 601.9,353.1M401.4,348.0C402.1,348.7 403.8,351.0 405.4,351.9C406.9,352.8 408.8,353.2 410.6,353.5C412.4,353.9 414.4,353.7 416.1,354.2C417.8,354.8 419.4,355.9 420.8,357.1C422.2,358.2 423.2,359.8 424.7,361.0C426.1,362.1 427.7,363.0 429.4,363.8C431.0,364.6 432.9,365.8 434.6,365.6C436.2,365.4 437.6,363.6 439.1,362.6C440.7,361.5 442.2,360.5 443.7,359.5C445.2,358.4 446.7,357.3 448.2,356.4C449.8,355.5 451.5,354.7 453.2,354.0C454.9,353.3 456.7,353.0 458.4,352.2C460.1,351.5 461.6,350.3 463.2,349.5C464.9,348.7 466.6,348.2 468.3,347.4C470.0,346.7 473.2,345.0 473.3,345.1C473.3,345.2 470.4,347.7 468.8,348.2C467.1,348.7 465.0,348.4 463.3,348.2C461.5,347.9 459.8,346.9 458.0,346.6C456.2,346.3 454.3,346.5 452.5,346.2C450.7,345.9 449.0,344.7 447.2,344.6C445.5,344.5 443.6,345.2 441.9,345.8C440.1,346.3 438.5,347.5 436.8,347.8C435.0,348.1 433.1,347.5 431.3,347.6C429.4,347.7 427.4,347.7 425.8,348.4C424.2,349.1 422.4,350.4 421.5,351.8C420.6,353.3 420.4,355.4 420.5,357.2C420.5,359.0 421.0,361.0 421.8,362.6C422.6,364.2 423.7,366.2 425.2,366.9C426.7,367.6 428.8,366.7 430.7,366.7C432.5,366.6 435.3,366.5 436.2,366.5M440.0,350.8C439.1,350.6 436.4,349.8 434.6,349.7C432.8,349.7 430.9,350.0 429.2,350.6C427.5,351.2 426.0,352.4 424.4,353.4C422.9,354.4 421.5,355.6 419.9,356.5C418.3,357.4 416.5,357.9 415.0,358.9C413.4,359.8 412.1,361.2 410.7,362.4C409.3,363.6 408.0,364.9 406.7,366.1C405.3,367.3 404.0,368.6 402.6,369.8C401.1,370.9 399.4,371.7 398.0,372.9C396.6,374.0 395.4,375.4 394.1,376.7C392.8,378.0 390.1,380.0 390.4,380.8C390.7,381.6 394.1,381.5 395.9,381.4C397.7,381.2 399.4,380.4 401.3,380.2C403.1,380.0 405.1,380.7 406.8,380.3C408.5,379.8 410.4,378.8 411.5,377.4C412.5,376.1 412.3,373.8 413.1,372.2C414.0,370.6 415.2,369.0 416.6,367.9C418.1,366.9 420.0,366.5 421.6,365.7C423.3,364.9 424.8,363.6 426.6,363.2C428.3,362.9 430.3,363.0 432.1,363.5C433.8,364.0 435.2,365.8 436.9,366.1C438.6,366.4 440.8,366.2 442.4,365.5C444.0,364.8 445.2,363.2 446.5,361.9C447.8,360.6 449.5,358.4 450.1,357.7M569.9,274.9C570.6,274.2 572.5,272.1 574.0,271.2C575.6,270.2 577.4,269.6 579.2,269.3C581.0,268.9 582.9,268.7 584.7,269.1C586.4,269.4 588.4,270.1 589.7,271.3C591.0,272.4 592.2,274.3 592.6,276.0C593.0,277.7 592.3,279.6 592.0,281.4C591.7,283.2 590.0,285.9 590.7,286.8C591.4,287.6 594.4,286.3 596.2,286.5C598.0,286.8 599.7,288.0 601.5,288.2C603.2,288.4 605.2,288.2 606.9,287.8C608.7,287.4 610.8,286.9 612.1,285.8C613.4,284.7 613.4,281.7 614.8,281.0C616.2,280.3 618.5,281.2 620.3,281.6C622.1,282.0 623.7,282.8 625.5,283.4C627.2,284.0 628.9,284.7 630.7,285.2C632.4,285.7 634.3,286.5 636.0,286.4C637.8,286.3 639.8,285.6 641.2,284.5C642.6,283.4 643.7,281.7 644.4,280.0C645.0,278.4 645.1,276.3 644.9,274.5C644.8,272.7 642.9,270.5 643.5,269.2C644.1,268.0 646.9,267.8 648.5,266.9C650.1,266.0 651.5,264.3 653.1,264.0C654.8,263.7 656.8,264.7 658.5,265.1C660.3,265.5 663.0,266.2 663.9,266.5M444.4,363.7C443.5,363.7 440.7,364.0 438.9,364.0C437.1,364.1 433.4,364.4 433.4,364.2C433.4,364.1 437.0,363.5 438.8,363.2C440.6,362.8 442.4,362.3 444.2,362.3C446.0,362.3 447.9,363.2 449.7,363.0C451.4,362.7 452.9,360.9 454.7,360.6C456.4,360.4 458.4,361.9 460.1,361.6C461.8,361.3 463.3,359.8 464.8,358.8C466.3,357.7 467.5,356.3 469.0,355.3C470.6,354.4 474.0,352.9 474.1,353.1C474.2,353.3 471.3,355.6 469.7,356.4C468.0,357.2 466.1,357.3 464.3,357.8C462.6,358.2 460.8,358.7 459.0,359.1C457.2,359.6 455.5,360.2 453.7,360.5C451.9,360.7 450.0,361.1 448.2,360.8C446.4,360.5 444.9,359.3 443.2,358.6C441.5,357.9 439.8,357.1 438.0,356.6C436.2,356.2 434.3,356.4 432.6,355.9C430.8,355.4 429.2,354.4 427.6,353.6C426.0,352.7 423.6,351.3 422.8,350.8M444.4,273.1C443.5,273.3 440.8,274.0 439.0,274.2C437.2,274.4 435.3,274.4 433.5,274.4C431.6,274.4 429.8,274.2 428.0,274.1C426.2,274.1 424.3,274.3 422.5,274.3C420.7,274.3 417.4,273.4 417.0,274.2C416.5,274.9 418.6,277.5 419.8,278.9C421.0,280.3 422.8,281.1 424.1,282.4C425.3,283.7 426.6,285.1 427.4,286.7C428.3,288.3 428.8,290.1 429.3,291.9C429.7,293.7 429.5,295.7 430.2,297.3C430.8,299.0 432.0,300.5 433.2,301.9C434.4,303.3 436.1,304.2 437.4,305.5C438.6,306.8 440.0,308.3 440.7,309.9C441.4,311.5 442.0,313.6 441.8,315.3C441.6,317.0 440.7,319.1 439.4,320.2C438.1,321.3 435.9,321.5 434.1,321.8C432.3,322.0 430.4,321.7 428.6,321.8C426.8,321.9 424.9,322.1 423.1,322.2C421.3,322.2 419.4,322.1 417.6,322.0C415.8,322.0 413.9,321.9 412.1,321.9C410.3,321.9 408.4,321.8 406.6,322.0C404.8,322.1 403.0,322.5 401.2,322.8C399.4,323.1 397.6,323.6 395.7,323.8C393.9,323.9 391.1,324.6 390.3,323.7C389.4,322.8 390.1,319.8 390.9,318.2C391.6,316.7 393.4,315.6 394.7,314.3C396.0,313.0 397.2,311.6 398.5,310.4C399.9,309.1 401.4,308.0 402.6,306.6C403.8,305.2 404.8,303.7 405.8,302.1C406.8,300.6 407.9,299.1 408.6,297.4C409.4,295.8 410.2,293.9 410.2,292.2C410.3,290.4 409.9,288.0 408.8,286.9C407.7,285.7 405.1,284.8 403.6,285.1C402.1,285.5 400.7,287.6 399.7,289.1C398.8,290.6 398.2,293.4 397.9,294.3M687.8,389.6C687.2,388.9 685.0,387.2 683.8,385.8C682.6,384.4 681.7,382.8 680.6,381.3C679.6,379.8 678.6,378.3 677.6,376.7C676.5,375.2 675.6,373.6 674.4,372.2C673.3,370.8 671.9,369.5 670.6,368.3C669.2,367.1 667.6,366.1 666.1,365.1C664.6,364.1 663.1,363.0 661.4,362.2C659.8,361.5 657.9,361.1 656.2,360.5C654.5,359.9 652.7,359.4 651.0,358.8C649.2,358.2 647.5,357.5 645.8,356.9C644.0,356.4 642.2,356.1 640.5,355.4C638.9,354.6 637.2,353.6 635.9,352.4C634.6,351.2 633.5,349.6 632.5,348.0C631.5,346.5 630.7,344.9 629.8,343.3C628.9,341.7 628.1,340.0 627.1,338.5C626.1,337.0 624.6,335.8 623.6,334.2C622.6,332.7 621.6,331.0 621.2,329.3C620.7,327.6 620.9,325.6 621.0,323.8C621.0,322.0 622.2,319.8 621.6,318.3C621.0,316.8 618.9,315.7 617.3,314.9C615.7,314.0 613.9,313.2 612.1,313.0C610.4,312.7 608.5,313.1 606.7,313.4C604.8,313.6 603.1,314.3 601.3,314.5C599.4,314.6 597.6,314.3 595.8,314.4C593.9,314.6 591.5,314.3 590.3,315.3C589.2,316.3 588.9,318.8 588.8,320.6C588.8,322.4 589.3,324.4 590.1,326.0C590.9,327.5 592.3,329.0 593.8,330.0C595.3,331.0 597.2,331.8 598.9,332.0C600.7,332.2 602.6,331.5 604.4,331.2C606.2,330.8 607.9,330.2 609.8,330.0C611.6,329.9 613.5,330.3 615.3,330.0C617.1,329.8 618.8,329.2 620.6,328.6C622.3,328.1 624.0,327.1 625.7,326.7C627.5,326.3 629.4,326.3 631.2,326.2C633.0,326.1 634.9,325.8 636.7,326.1C638.5,326.3 640.2,327.1 642.0,327.7C643.7,328.3 646.2,329.4 647.1,329.7M588.9,296.2C589.7,295.8 592.2,294.1 593.9,294.0C595.7,293.9 597.4,295.2 599.2,295.7C600.9,296.2 602.7,296.6 604.5,296.9C606.4,297.2 608.2,297.6 610.0,297.6C611.8,297.6 613.7,297.6 615.5,297.1C617.2,296.5 620.3,294.4 620.4,294.5C620.5,294.7 617.4,296.8 616.1,298.0C614.8,299.3 613.9,301.0 612.4,302.1C611.0,303.1 609.1,304.2 607.4,304.4C605.7,304.5 603.9,303.3 602.1,302.9C600.3,302.5 598.5,302.2 596.7,302.0C594.9,301.8 592.4,301.0 591.2,301.8C590.0,302.7 589.6,305.3 589.4,307.0C589.3,308.8 589.8,310.8 590.5,312.4C591.1,314.1 592.2,315.8 593.4,317.1C594.7,318.3 596.6,318.9 598.2,319.9C599.8,320.8 601.3,321.8 602.9,322.7C604.5,323.6 606.2,324.3 607.8,325.1C609.5,325.9 611.1,326.8 612.8,327.4C614.5,328.1 617.2,328.8 618.1,329.0M463.7,342.6C462.9,343.0 460.5,344.6 458.8,345.2C457.1,345.7 455.2,345.9 453.4,345.9C451.6,345.9 449.6,345.7 447.9,345.0C446.3,344.2 444.7,342.9 443.7,341.5C442.7,340.0 442.1,338.1 441.9,336.3C441.7,334.5 441.8,332.5 442.5,330.8C443.1,329.2 444.5,327.7 445.7,326.4C447.0,325.1 448.5,323.8 450.2,323.1C451.8,322.5 453.8,322.5 455.6,322.6C457.5,322.7 459.2,323.3 461.0,323.7C462.8,324.1 464.7,324.3 466.4,324.9C468.1,325.5 470.0,327.5 471.4,327.2C472.8,326.9 474.1,324.6 475.0,323.0C475.9,321.4 476.0,319.4 476.9,317.8C477.8,316.3 478.8,314.5 480.3,313.5C481.7,312.4 483.6,312.0 485.4,311.5C487.2,311.1 489.0,311.1 490.9,310.9C492.7,310.8 494.6,310.4 496.4,310.6C498.1,310.8 500.0,311.5 501.6,312.3C503.2,313.1 505.0,315.8 506.1,315.4C507.2,315.1 508.0,312.0 508.0,310.3C508.0,308.5 506.8,306.8 506.3,305.0C505.8,303.3 505.4,301.5 504.9,299.7C504.4,298.0 503.4,295.4 503.1,294.5M391.1,341.2C392.0,340.9 394.7,340.0 396.2,339.0C397.7,338.0 399.5,336.9 400.3,335.4C401.2,333.9 401.1,331.8 401.3,330.0C401.6,328.2 401.6,326.3 402.0,324.5C402.5,322.8 403.1,321.0 403.9,319.4C404.7,317.7 405.5,315.9 406.7,314.7C408.0,313.4 410.1,313.0 411.5,311.9C413.0,310.8 414.2,309.4 415.4,308.0C416.6,306.7 417.6,305.0 419.0,303.8C420.4,302.7 422.1,302.0 423.8,301.2C425.4,300.3 427.0,299.5 428.8,298.9C430.5,298.2 432.3,297.9 434.1,297.4C435.9,297.0 437.7,296.7 439.5,296.4C441.3,296.1 443.1,295.5 444.9,295.4C446.7,295.3 448.6,295.6 450.4,295.8C452.2,296.1 454.0,296.4 455.8,297.0C457.5,297.6 459.1,298.6 460.7,299.5C462.3,300.4 463.7,301.5 465.3,302.4C466.9,303.3 468.6,304.1 470.2,305.0C471.8,305.8 475.2,306.5 475.2,307.3C475.2,308.0 471.8,308.6 470.1,309.4C468.4,310.2 466.9,311.2 465.2,312.0C463.6,312.7 461.9,313.7 460.1,314.0C458.4,314.3 456.4,314.1 454.6,313.8C452.8,313.5 451.2,312.5 449.4,312.1C447.6,311.8 445.7,311.9 443.9,311.7C442.1,311.5 440.3,311.1 438.5,310.8C436.7,310.5 434.8,310.3 433.0,310.0C431.2,309.7 429.4,309.2 427.6,309.1C425.8,309.0 423.8,308.8 422.1,309.2C420.4,309.7 418.6,310.7 417.3,312.0C416.1,313.2 415.3,315.1 414.7,316.8C414.1,318.5 413.7,320.5 413.9,322.3C414.1,324.0 414.7,326.5 415.9,327.4C417.1,328.3 419.6,327.8 421.4,327.7C423.2,327.5 425.1,327.1 426.7,326.3C428.3,325.5 429.8,324.1 430.9,322.7C432.0,321.3 432.6,319.5 433.4,317.8C434.3,316.2 435.7,314.6 435.9,312.9C436.1,311.2 434.9,308.4 434.7,307.5M531.0,278.4C530.3,277.7 527.0,275.9 527.0,274.6C526.9,273.3 529.4,271.8 530.6,270.4C531.8,269.1 532.9,267.6 534.1,266.2C535.3,264.8 536.4,263.3 537.8,262.2C539.2,261.1 542.0,259.1 542.6,259.5C543.2,260.0 542.4,263.4 541.5,264.9C540.5,266.3 538.7,267.3 537.1,268.3C535.6,269.3 534.0,270.2 532.3,270.9C530.7,271.7 528.9,272.2 527.2,272.9C525.5,273.6 523.8,274.4 522.2,275.3C520.6,276.2 519.3,277.6 517.6,278.3C516.0,279.0 512.3,279.8 512.3,279.7C512.3,279.6 515.7,277.6 517.4,277.6C519.1,277.6 521.6,279.3 522.5,279.7M416.1,317.4C417.0,317.2 419.8,316.4 421.6,316.7C423.3,316.9 424.9,318.1 426.7,318.7C428.4,319.4 430.3,319.7 431.8,320.5C433.4,321.4 434.6,323.0 436.2,323.9C437.8,324.8 439.5,325.7 441.2,326.1C443.0,326.5 444.9,326.3 446.7,326.3C448.6,326.3 450.4,326.2 452.2,326.2C454.1,326.2 455.9,326.3 457.7,326.2C459.6,326.0 461.4,325.7 463.2,325.3C465.0,325.0 466.7,324.4 468.5,324.2C470.4,323.9 472.4,323.5 474.0,324.0C475.7,324.5 477.1,326.0 478.4,327.3C479.7,328.6 480.5,330.5 481.9,331.6C483.2,332.8 485.0,333.9 486.7,334.2C488.4,334.5 490.6,334.2 492.2,333.5C493.8,332.8 496.5,331.0 496.5,330.0C496.4,329.0 493.4,327.7 491.6,327.3C489.9,327.0 487.8,327.3 486.2,327.9C484.5,328.6 483.4,330.3 481.9,331.4C480.4,332.4 478.8,333.4 477.2,334.3C475.6,335.1 473.9,335.9 472.2,336.6C470.5,337.3 468.6,337.6 467.0,338.4C465.4,339.2 463.6,340.2 462.5,341.6C461.4,342.9 460.8,344.9 460.3,346.6C459.9,348.4 460.1,350.3 460.0,352.1C459.8,353.9 459.8,355.8 459.5,357.6C459.2,359.4 459.0,361.6 457.9,362.9C456.8,364.1 454.4,365.0 452.8,364.9C451.2,364.7 449.8,362.7 448.2,361.9C446.5,361.1 444.6,359.8 443.0,360.1C441.4,360.4 440.1,362.4 438.6,363.5C437.1,364.6 434.9,366.1 434.1,366.7M592.6,258.2C592.6,259.2 592.1,262.1 592.7,263.7C593.2,265.4 594.6,266.9 595.8,268.3C596.9,269.7 598.2,271.0 599.5,272.3C600.8,273.6 602.0,275.1 603.4,276.1C604.9,277.2 607.1,277.4 608.4,278.6C609.6,279.9 610.2,281.8 610.8,283.6C611.4,285.3 611.4,287.2 611.8,289.0C612.2,290.8 612.6,292.6 613.2,294.3C613.9,296.0 614.8,297.6 615.6,299.2C616.4,300.9 617.0,302.6 617.9,304.2C618.7,305.9 619.6,307.5 620.6,309.0C621.6,310.6 622.7,312.0 623.8,313.5C624.8,315.0 625.6,316.8 627.0,318.0C628.3,319.2 630.1,320.1 631.8,320.6C633.5,321.2 635.4,321.3 637.3,321.3C639.1,321.2 641.0,321.0 642.7,320.4C644.4,319.9 646.0,318.8 647.6,317.9C649.1,317.0 650.7,316.0 652.2,314.9C653.7,313.9 655.2,312.7 656.5,311.5C657.8,310.2 658.8,308.6 660.2,307.4C661.6,306.3 663.2,305.0 664.9,304.6C666.6,304.2 668.6,304.5 670.4,304.8C672.2,305.1 673.9,305.8 675.7,306.3C677.5,306.7 680.2,307.2 681.1,307.4M471.6,308.7C472.5,308.4 475.1,307.5 476.9,307.1C478.7,306.7 480.6,306.9 482.4,306.4C484.1,306.0 485.8,305.0 487.5,304.5C489.3,304.1 491.5,303.2 493.0,303.8C494.4,304.4 495.5,306.6 496.2,308.2C496.8,309.9 496.9,311.9 496.8,313.7C496.7,315.5 496.2,317.3 495.7,319.1C495.2,320.9 494.5,322.5 493.8,324.3C493.2,326.0 492.5,327.7 492.1,329.5C491.6,331.2 491.6,333.1 491.2,334.9C490.7,336.7 489.9,338.3 489.3,340.1C488.7,341.8 488.6,345.0 487.6,345.3C486.6,345.6 484.4,343.4 483.1,342.1C481.9,340.8 480.6,339.2 480.1,337.5C479.6,335.8 479.4,333.4 480.2,332.0C481.0,330.6 483.2,329.3 484.9,329.1C486.5,328.9 488.9,329.7 490.1,330.9C491.3,332.0 491.8,334.3 492.0,336.0C492.1,337.8 491.7,339.8 490.9,341.4C490.2,343.0 488.5,344.2 487.4,345.7C486.3,347.2 485.5,348.8 484.5,350.3C483.5,351.9 481.2,354.0 481.6,355.0C482.0,356.0 485.4,356.7 487.0,356.3C488.5,355.8 490.1,353.0 490.8,352.3M510.6,270.8C511.0,270.0 512.0,267.3 513.2,266.0C514.4,264.6 516.0,263.5 517.6,262.6C519.1,261.7 520.9,261.0 522.5,260.3C524.2,259.6 527.5,258.1 527.7,258.3C527.8,258.5 524.6,260.3 523.3,261.6C522.0,262.9 521.3,264.7 520.0,266.0C518.8,267.4 517.0,268.2 515.7,269.5C514.4,270.8 513.3,272.2 512.2,273.7C511.2,275.2 510.3,276.9 509.3,278.4C508.2,279.9 507.2,282.5 505.9,282.7C504.6,282.9 503.0,280.3 501.5,279.4C499.9,278.5 496.8,278.3 496.4,277.2C496.1,276.0 498.1,273.9 499.1,272.4C500.2,270.9 501.4,269.4 502.8,268.3C504.2,267.1 506.2,266.8 507.6,265.6C509.0,264.5 511.3,261.6 511.2,261.5C511.1,261.4 508.6,264.1 507.1,265.1C505.6,266.2 503.9,267.1 502.2,267.6C500.5,268.2 498.6,268.2 496.8,268.3C494.9,268.4 493.1,268.3 491.3,268.4C489.4,268.5 487.6,268.8 485.8,269.0C484.0,269.1 480.5,270.0 480.3,269.5C480.1,268.9 482.9,266.8 484.4,265.8C485.9,264.8 488.6,264.0 489.5,263.7M427.8,355.8C428.2,355.1 429.4,352.5 430.5,351.1C431.6,349.6 432.9,348.1 434.4,347.1C435.8,346.1 437.7,345.6 439.4,345.0C441.2,344.5 443.0,344.4 444.8,344.0C446.6,343.7 448.5,343.5 450.2,343.0C452.0,342.5 453.7,341.7 455.3,340.9C457.0,340.1 458.6,339.3 460.2,338.4C461.8,337.5 463.3,336.2 464.9,335.6C466.6,334.9 468.5,334.6 470.3,334.5C472.1,334.4 474.1,334.6 475.8,335.1C477.5,335.6 479.0,337.0 480.7,337.7C482.3,338.4 484.2,338.6 485.9,339.3C487.6,340.0 489.1,341.1 490.7,342.0C492.3,342.9 494.0,343.6 495.6,344.6C497.2,345.5 498.7,346.6 500.2,347.5C501.8,348.4 503.4,349.3 505.1,350.0C506.8,350.7 510.1,352.1 510.4,351.7C510.7,351.2 508.4,348.4 507.0,347.3C505.5,346.3 503.5,346.1 501.8,345.6C500.0,345.0 497.8,345.2 496.4,344.2C495.1,343.2 494.6,341.1 493.7,339.4C492.9,337.8 491.9,336.2 491.5,334.4C491.0,332.7 491.0,330.8 490.9,329.0C490.7,327.1 490.6,325.3 490.3,323.5C490.1,321.7 489.7,319.9 489.4,318.1C489.0,316.3 488.7,314.5 488.3,312.7C488.0,310.9 487.5,309.1 487.3,307.3C487.0,305.4 487.0,303.6 486.8,301.8C486.5,300.0 485.9,298.2 485.9,296.4C485.8,294.5 486.0,292.7 486.2,290.9C486.4,289.1 486.7,287.2 487.1,285.4C487.4,283.6 488.0,281.9 488.3,280.1C488.6,278.3 488.7,276.4 489.0,274.6C489.2,272.8 489.7,271.0 489.7,269.2C489.8,267.3 488.6,264.9 489.4,263.7C490.2,262.4 492.8,262.3 494.5,261.7C496.3,261.2 498.1,260.5 499.9,260.4C501.7,260.3 504.4,260.9 505.3,261.0M646.5,346.7C646.9,345.9 648.8,343.7 649.4,342.0C650.0,340.3 650.2,338.4 650.3,336.6C650.4,334.8 650.3,332.9 650.0,331.1C649.7,329.3 649.0,327.6 648.4,325.8C647.8,324.1 646.9,322.5 646.4,320.7C645.9,319.0 645.7,317.1 645.3,315.3C644.9,313.5 644.5,311.7 643.9,310.0C643.3,308.3 642.5,306.6 641.7,305.0C640.9,303.3 640.1,301.7 639.2,300.1C638.4,298.4 637.5,296.8 636.6,295.2C635.7,293.6 633.4,291.8 633.7,290.6C633.9,289.3 636.6,287.9 638.2,287.5C639.9,287.2 642.0,287.7 643.7,288.3C645.4,289.0 647.0,290.1 648.2,291.5C649.4,292.8 650.0,294.7 650.9,296.3C651.8,297.9 652.9,299.4 653.5,301.1C654.0,302.9 653.9,304.8 654.0,306.6C654.1,308.4 654.6,310.5 653.9,312.1C653.3,313.7 651.7,315.2 650.2,316.1C648.6,317.0 646.7,317.3 644.9,317.6C643.1,317.9 641.2,317.9 639.4,317.7C637.6,317.5 634.9,316.6 634.0,316.4M389.4,279.0C390.8,278.4 394.7,277.0 398.0,275.7C401.3,274.4 406.4,273.1 409.0,271.3C411.6,269.5 412.0,266.9 413.5,264.7C415.0,262.5 415.6,259.4 417.8,258.0C420.0,256.6 424.1,256.5 426.6,256.0C429.1,255.5 431.5,254.4 433.0,254.9C434.5,255.4 435.6,257.8 435.4,259.2C435.2,260.6 431.6,262.3 432.0,263.6C432.4,264.9 435.1,265.4 437.5,267.0C439.9,268.6 443.4,273.2 446.3,273.5C449.2,273.8 452.4,270.6 455.0,269.0C457.6,267.4 459.4,264.3 461.6,263.6C463.8,262.9 466.2,263.8 468.0,264.7C469.8,265.6 471.8,268.3 472.6,269.0M481.3,269.0C481.1,268.1 479.5,265.2 480.2,263.6C480.9,262.0 483.3,260.3 485.7,259.2C488.1,258.1 491.6,256.8 494.5,257.0C497.4,257.2 500.1,259.4 503.0,260.3C505.9,261.2 509.0,262.5 512.0,262.5C515.0,262.5 519.3,260.7 520.8,260.3M612.7,254.6C613.7,255.3 616.2,258.0 618.6,259.0C621.0,260.0 624.4,260.6 627.3,260.4C630.2,260.1 632.8,258.4 636.0,257.5C639.2,256.6 643.6,255.3 646.3,255.3C649.0,255.3 650.8,255.9 652.0,257.5C653.2,259.1 652.9,263.1 653.6,264.8C654.4,266.5 656.0,267.2 656.5,267.7M611.0,266.3C612.3,266.5 615.9,266.9 618.6,267.7C621.3,268.5 624.9,270.4 627.3,271.4C629.7,272.4 632.0,273.2 633.0,273.6" fill="none" stroke="#b8d6d8" stroke-width="1.35" stroke-linecap="round" stroke-linejoin="round"/>
<polygon points="592.0,284.7 588.0,283.7 584.0,283.4 580.0,283.2 576.0,283.0 572.0,282.9 568.0,282.7 564.0,282.6 560.1,282.5 556.1,282.4 552.1,282.2 548.1,282.1 544.1,282.0 540.1,281.9 536.1,281.8 532.1,281.7 528.1,281.6 524.1,281.5 520.1,281.5 516.1,281.4 512.1,281.3 508.1,281.2 504.1,281.1 500.1,281.0 496.1,281.0 492.2,278.5 488.1,280.9 484.0,283.4 484.0,283.8 487.9,286.6 491.8,289.3 495.9,287.2 499.9,287.4 503.9,287.7 507.9,287.9 511.9,288.1 515.9,288.3 519.9,288.5 523.9,288.7 527.9,288.8 531.9,288.9 535.9,289.0 539.9,289.1 543.9,289.2 547.9,289.3 551.9,289.4 555.9,289.4 559.9,289.5 563.9,289.5 567.9,289.5 571.9,289.5 575.9,289.5 579.9,289.4 584.0,289.3 588.0,289.2 592.0,288.3" fill="url(#yg)" stroke="#8a8a28" stroke-width="0.6" stroke-linejoin="round"/>
<polygon points="444.1,302.4 448.1,303.2 452.1,303.3 456.1,303.3 460.1,303.3 464.4,303.1 468.4,302.7 472.3,302.3 476.3,302.0 480.3,301.6 484.0,301.5 488.0,301.5 492.0,301.4 496.0,301.3 500.0,301.3 504.0,301.2 508.0,301.1 512.0,301.1 516.0,301.1 520.0,301.0 524.0,301.0 528.0,301.0 532.0,301.0 536.0,300.9 540.0,300.9 544.0,300.9 548.0,300.8 552.0,300.8 556.0,300.7 560.0,300.7 564.0,300.6 568.0,300.6 572.0,300.5 576.0,300.5 580.0,300.4 584.0,300.3 588.0,300.2 592.0,300.1 596.0,302.7 600.0,300.0 604.0,297.2 604.0,296.8 600.0,294.0 596.0,291.3 592.0,293.9 588.0,293.8 584.0,293.7 580.0,293.6 576.0,293.5 572.0,293.5 568.0,293.4 564.0,293.4 559.9,293.4 555.9,293.3 551.9,293.3 547.9,293.3 543.9,293.3 539.9,293.3 535.9,293.4 531.9,293.4 527.9,293.4 523.9,293.4 519.9,293.4 515.9,293.5 511.9,293.5 507.8,293.6 503.8,293.7 499.8,293.8 495.8,293.9 491.8,294.0 487.8,294.2 483.8,294.3 479.5,294.5 475.5,295.0 471.6,295.5 467.6,296.0 463.6,296.5 459.9,296.8 455.9,297.0 451.9,297.3 447.9,297.6 443.9,298.6" fill="url(#yg)" stroke="#8a8a28" stroke-width="0.6" stroke-linejoin="round"/>
<polygon points="511.0,312.6 515.1,313.6 519.2,313.8 523.4,313.9 527.5,314.0 531.6,314.0 535.7,314.0 539.8,314.1 543.9,314.0 548.1,314.0 552.2,313.9 556.3,313.8 560.4,313.7 564.5,313.5 568.6,313.4 572.7,313.2 576.8,313.0 580.9,312.7 585.0,311.6 585.0,308.4 580.8,307.5 576.7,307.4 572.6,307.3 568.5,307.3 564.4,307.3 560.3,307.3 556.2,307.4 552.0,307.4 547.9,307.5 543.9,307.6 539.8,307.6 535.7,307.7 531.5,307.8 527.4,307.9 523.3,308.0 519.2,308.1 515.1,308.4 511.0,309.4" fill="url(#yg)" stroke="#8a8a28" stroke-width="0.6" stroke-linejoin="round"/>
<polygon points="513.0,325.2 517.1,326.2 521.2,326.5 525.3,326.7 529.4,326.9 533.5,327.0 537.6,327.1 541.7,327.2 545.8,327.3 549.9,327.4 554.0,327.5 558.1,327.5 562.3,327.6 566.4,327.6 570.5,327.7 574.6,327.7 578.7,327.6 582.8,327.5 587.0,326.6 587.0,323.4 583.0,322.3 578.8,322.0 574.7,321.8 570.6,321.6 566.5,321.4 562.4,321.2 558.3,321.1 554.2,321.0 550.1,320.9 546.0,320.8 541.8,320.7 537.7,320.7 533.6,320.7 529.5,320.8 525.4,320.8 521.3,320.9 517.1,321.1 513.0,322.0" fill="url(#yg)" stroke="#8a8a28" stroke-width="0.6" stroke-linejoin="round"/>
<polygon points="520.0,336.9 524.2,337.8 528.3,337.9 532.4,338.0 536.6,338.1 540.7,338.1 544.8,338.0 549.0,338.0 553.2,337.9 557.3,337.8 561.4,337.6 565.6,337.4 569.7,337.2 573.8,336.9 577.9,336.6 582.0,335.5 582.0,332.5 577.8,331.7 573.7,331.6 569.5,331.6 565.4,331.6 561.2,331.7 557.1,331.8 553.0,331.9 548.9,332.0 544.8,332.1 540.6,332.2 536.5,332.3 532.4,332.5 528.2,332.6 524.1,332.9 520.0,333.9" fill="url(#yg)" stroke="#8a8a28" stroke-width="0.6" stroke-linejoin="round"/>
<polygon points="479.7,346.0 483.6,347.6 487.5,348.5 491.5,349.3 495.5,350.1 499.9,350.5 504.0,350.6 508.0,350.8 512.1,351.0 516.3,351.0 520.4,350.9 524.4,350.8 528.5,350.7 532.5,350.6 536.6,350.5 540.6,350.3 544.7,350.2 548.7,350.0 552.8,349.8 556.8,349.6 560.9,349.4 564.9,349.2 569.0,348.9 573.0,348.5 577.1,347.5 576.9,344.5 572.9,343.8 568.8,343.7 564.7,343.7 560.7,343.8 556.6,343.9 552.6,344.0 548.6,344.0 544.5,344.1 540.4,344.2 536.4,344.3 532.3,344.4 528.3,344.5 524.2,344.6 520.2,344.8 516.1,344.9 512.2,344.9 508.2,344.8 504.1,344.8 500.1,344.7 496.5,344.6 492.4,343.9 488.4,343.4 484.4,342.8 480.3,343.0" fill="url(#yg)" stroke="#8a8a28" stroke-width="0.6" stroke-linejoin="round"/>
<polygon points="479.9,311.1 482.7,312.4 485.7,312.9 488.8,313.3 491.8,313.6 494.8,313.7 497.9,313.1 498.1,310.9 495.2,309.7 492.2,309.2 489.2,308.9 486.3,308.6 483.2,308.4 480.1,308.9" fill="url(#yg)" stroke="#8a8a28" stroke-width="0.6" stroke-linejoin="round"/>
<polygon points="482.8,336.1 485.7,337.7 488.7,338.5 491.7,339.3 494.8,340.0 497.9,340.7 501.2,340.6 501.8,338.4 498.9,336.7 495.9,335.8 492.9,334.9 489.7,334.2 486.5,333.7 483.2,333.9" fill="url(#yg)" stroke="#8a8a28" stroke-width="0.6" stroke-linejoin="round"/>
<polygon points="476.4,302.6 479.7,305.4 483.3,307.4 486.9,309.2 490.6,311.1 494.3,312.8 498.4,313.7 499.6,311.5 496.4,308.7 492.8,306.7 489.2,304.8 485.4,303.0 481.7,301.3 477.6,300.4" fill="url(#yg)" stroke="#8a8a28" stroke-width="0.6" stroke-linejoin="round"/>
<polygon points="529.0,259.3 527.3,258.3 525.7,258.2 524.1,258.2 522.5,257.6 521.0,259.2 519.5,260.8 519.5,261.2 521.2,262.6 522.9,264.0 524.3,263.2 525.9,263.1 527.5,262.8 529.0,261.7" fill="url(#yg)" stroke="#8a8a28" stroke-width="0.6" stroke-linejoin="round"/>
<polygon points="527.6,271.5 523.5,270.2 519.5,269.7 515.4,269.5 511.5,269.2 507.6,267.2 503.3,269.0 499.0,270.8 499.0,271.2 502.8,273.8 506.7,276.4 510.9,275.2 515.1,275.4 519.2,275.5 523.3,275.5 527.4,274.5" fill="url(#yg)" stroke="#8a8a28" stroke-width="0.6" stroke-linejoin="round"/>
<polygon points="468.9,270.3 469.3,272.7 470.4,274.6 471.6,276.4 473.5,278.3 475.2,279.7 477.5,280.5 479.5,278.5 478.7,276.2 477.3,274.5 476.1,273.2 474.8,271.5 473.3,269.8 471.1,268.7" fill="url(#yg)" stroke="#8a8a28" stroke-width="0.6" stroke-linejoin="round"/>
<polygon points="461.2,282.3 463.4,285.1 466.1,287.1 469.2,289.0 471.8,291.3 475.6,291.2 479.4,291.2 479.6,290.8 477.5,287.6 475.3,284.5 472.0,283.6 469.3,282.1 466.3,280.5 462.8,279.7" fill="url(#yg)" stroke="#8a8a28" stroke-width="0.6" stroke-linejoin="round"/>
<polygon points="440.0,291.8 442.8,292.4 445.7,292.5 448.4,292.5 451.3,292.7 454.1,292.7 457.0,292.2 457.0,290.8 454.2,290.0 451.4,289.7 448.6,289.5 445.7,289.5 442.8,289.6 440.0,290.2" fill="url(#yg)" stroke="#8a8a28" stroke-width="0.6" stroke-linejoin="round"/>
<polygon points="429.7,266.9 431.5,268.4 433.6,269.3 435.3,269.9 437.2,271.0 439.2,272.0 441.5,272.4 442.5,270.6 441.0,268.8 439.2,267.6 437.3,266.4 434.8,265.5 432.7,265.0 430.3,265.1" fill="url(#yg)" stroke="#8a8a28" stroke-width="0.6" stroke-linejoin="round"/>
<polygon points="423.0,278.9 424.1,282.0 426.0,284.4 427.9,286.8 430.6,289.0 433.0,290.9 436.1,292.0 437.9,290.0 436.3,287.1 434.1,285.0 432.1,283.2 430.0,280.9 427.9,278.7 425.0,277.1" fill="url(#yg)" stroke="#8a8a28" stroke-width="0.6" stroke-linejoin="round"/>
<polygon points="407.6,310.6 409.3,314.4 411.9,317.1 414.7,319.6 416.4,323.4 421.1,323.8 425.8,324.2 426.2,323.8 425.2,319.2 424.3,314.5 420.4,313.3 417.4,310.8 414.4,308.6 410.4,307.4" fill="url(#yg)" stroke="#8a8a28" stroke-width="0.6" stroke-linejoin="round"/>
<polygon points="423.0,316.5 425.4,319.8 428.5,322.1 432.1,324.4 435.6,326.0 439.2,327.3 443.3,327.6 444.7,324.4 441.8,321.5 438.5,319.7 435.0,318.1 432.3,316.4 428.9,314.5 425.0,313.5" fill="url(#yg)" stroke="#8a8a28" stroke-width="0.6" stroke-linejoin="round"/>
<polygon points="401.2,321.1 402.4,323.4 404.2,325.0 406.1,326.5 408.5,327.9 410.7,328.9 413.3,329.2 414.7,326.8 413.2,324.6 411.2,323.2 409.4,322.1 407.5,320.7 405.4,319.5 402.8,318.9" fill="url(#yg)" stroke="#8a8a28" stroke-width="0.6" stroke-linejoin="round"/>
<polygon points="388.9,363.3 390.1,366.2 392.0,368.1 394.3,370.1 396.6,371.6 398.9,373.0 402.0,373.4 404.0,370.6 402.6,367.8 400.5,366.0 398.4,364.4 396.4,362.9 394.1,361.3 391.1,360.7" fill="url(#yg)" stroke="#8a8a28" stroke-width="0.6" stroke-linejoin="round"/>
<polygon points="389.1,378.9 389.5,380.7 390.5,382.0 391.5,383.0 392.6,384.2 393.7,385.3 395.6,385.8 397.4,384.2 397.2,382.3 396.2,381.0 395.2,379.8 394.0,378.5 392.7,377.5 390.9,377.1" fill="url(#yg)" stroke="#8a8a28" stroke-width="0.6" stroke-linejoin="round"/>
<polygon points="596.3,259.8 599.3,260.4 602.1,260.0 604.9,259.4 607.6,258.7 610.3,257.9 612.8,256.1 612.2,253.5 609.2,253.0 606.4,253.5 603.6,254.1 601.0,254.7 598.2,255.5 595.7,257.2" fill="url(#yg)" stroke="#8a8a28" stroke-width="0.6" stroke-linejoin="round"/>
<polygon points="596.3,270.9 599.0,271.5 601.5,271.2 604.0,270.8 606.6,270.2 609.0,269.5 611.3,267.8 610.7,265.2 608.0,264.6 605.4,264.9 603.0,265.4 600.5,265.9 598.0,266.6 595.7,268.1" fill="url(#yg)" stroke="#8a8a28" stroke-width="0.6" stroke-linejoin="round"/>
<polygon points="663.1,267.4 665.4,269.3 667.9,270.2 670.5,271.0 672.9,272.4 675.9,271.3 678.9,270.2 679.1,269.8 676.9,267.4 674.7,265.0 672.0,265.1 669.4,264.5 666.8,264.1 663.9,264.6" fill="url(#yg)" stroke="#8a8a28" stroke-width="0.6" stroke-linejoin="round"/>
<polygon points="637.3,280.8 640.0,283.7 643.3,285.8 646.3,287.5 648.8,290.8 653.1,291.2 657.4,291.7 657.6,291.3 655.6,287.5 653.6,283.6 649.7,282.6 646.1,280.6 642.7,279.0 638.7,278.2" fill="url(#yg)" stroke="#8a8a28" stroke-width="0.6" stroke-linejoin="round"/>
<polygon points="667.0,282.4 669.2,284.4 671.8,285.5 674.2,286.4 676.8,287.3 679.5,288.1 682.5,287.9 683.5,285.1 681.4,283.0 678.9,281.8 676.4,280.8 673.6,279.9 671.0,279.3 668.0,279.6" fill="url(#yg)" stroke="#8a8a28" stroke-width="0.6" stroke-linejoin="round"/>
<polygon points="672.7,288.8 672.7,291.2 673.6,293.1 674.5,294.7 675.5,296.6 676.6,298.3 678.7,299.7 681.3,298.3 681.5,295.9 680.8,293.9 679.9,292.1 678.7,290.1 677.4,288.4 675.3,287.2" fill="url(#yg)" stroke="#8a8a28" stroke-width="0.6" stroke-linejoin="round"/>
<polygon points="629.6,290.1 631.4,291.6 633.4,292.5 635.2,293.1 637.1,294.0 639.1,294.9 641.5,295.0 642.5,293.0 641.0,291.2 639.1,290.1 637.2,289.1 634.8,288.3 632.7,287.8 630.4,287.9" fill="url(#yg)" stroke="#8a8a28" stroke-width="0.6" stroke-linejoin="round"/>
<polygon points="596.7,294.2 598.7,295.8 600.9,296.7 603.2,297.4 605.2,298.1 607.5,298.8 610.1,298.7 610.9,296.3 609.1,294.5 606.9,293.5 604.5,292.6 602.2,292.0 599.9,291.5 597.3,291.8" fill="url(#yg)" stroke="#8a8a28" stroke-width="0.6" stroke-linejoin="round"/>
<polygon points="611.0,299.4 610.8,301.4 611.3,303.2 611.9,304.8 612.6,306.5 613.4,308.1 615.0,309.4 617.0,308.6 617.2,306.6 616.7,304.8 616.1,303.2 615.4,301.5 614.6,299.9 613.0,298.6" fill="url(#yg)" stroke="#8a8a28" stroke-width="0.6" stroke-linejoin="round"/>
<polygon points="674.1,306.2 675.2,308.6 676.9,310.3 678.6,311.8 680.5,313.2 682.4,314.6 685.0,315.2 687.0,312.8 685.9,310.4 684.2,308.7 682.5,307.1 680.5,305.7 678.5,304.4 675.9,303.8" fill="url(#yg)" stroke="#8a8a28" stroke-width="0.6" stroke-linejoin="round"/>
<polygon points="669.2,318.3 671.4,321.1 674.1,323.0 676.5,324.7 679.0,326.8 681.7,328.8 685.0,330.1 687.0,327.9 685.3,324.8 682.9,322.4 680.4,320.1 677.2,318.1 674.3,316.5 670.8,315.7" fill="url(#yg)" stroke="#8a8a28" stroke-width="0.6" stroke-linejoin="round"/>
<polygon points="667.7,332.5 667.8,335.5 668.6,338.0 669.8,340.7 671.1,343.0 672.5,345.3 674.8,347.1 677.2,345.9 676.9,343.0 675.8,340.5 674.6,338.1 673.6,335.9 672.3,333.5 670.3,331.5" fill="url(#yg)" stroke="#8a8a28" stroke-width="0.6" stroke-linejoin="round"/>
<polygon points="651.5,340.1 651.9,343.3 653.3,345.8 654.9,348.2 655.8,351.1 659.3,352.1 662.8,353.1 663.2,352.9 663.3,349.2 663.5,345.6 661.1,343.8 659.3,341.5 657.4,339.4 654.5,337.9" fill="url(#yg)" stroke="#8a8a28" stroke-width="0.6" stroke-linejoin="round"/>
<polygon points="663.3,353.1 665.6,355.7 668.3,357.6 673.6,359.0 676.4,357.3 679.2,355.6 681.6,353.1 680.4,350.9 677.0,351.6 674.1,353.1 671.2,354.6 670.9,353.4 668.0,351.8 664.7,350.9" fill="url(#yg)" stroke="#8a8a28" stroke-width="0.6" stroke-linejoin="round"/>
<polygon points="594.5,318.0 597.1,320.2 600.0,321.6 602.9,323.0 606.2,324.1 609.3,324.9 612.6,325.1 613.4,322.9 610.6,321.0 607.6,319.9 604.7,318.9 601.8,317.6 598.8,316.4 595.5,316.0" fill="url(#yg)" stroke="#8a8a28" stroke-width="0.6" stroke-linejoin="round"/>
<path d="M488.9,289.2L489.6,295.0M499.7,288.9L496.9,294.0M513.5,289.0L512.7,294.8M518.9,288.9L519.8,294.6M529.4,289.2L528.4,294.9M535.5,289.1L536.7,294.7M544.8,289.1L543.3,294.6M559.3,288.8L558.3,294.5M568.8,289.0L569.3,294.7M575.4,289.6L577.7,294.9M582.6,289.6L581.0,295.1M512.3,300.8L514.0,306.3M521.8,301.1L520.4,306.7M530.6,301.0L531.9,306.6M538.1,300.9L536.0,306.3M543.6,301.8L540.9,306.9M551.8,301.2L552.9,306.9M555.2,301.5L557.6,306.8M564.1,301.4L562.3,306.9M576.9,302.1L578.6,307.7M514.6,314.4L514.4,320.2M520.3,313.6L520.2,319.4M526.2,314.1L528.0,319.6M544.4,314.4L545.3,320.1M554.1,314.9L554.7,320.7M561.6,314.2L562.8,319.8M567.0,314.7L568.5,320.3M575.7,314.9L573.6,320.4M582.4,313.8L581.4,319.5M513.2,327.3L513.1,333.1M531.8,327.0L530.2,332.5M536.9,327.5L539.2,332.8M549.0,327.5L548.7,333.3M554.0,327.2L552.0,332.7M562.6,326.3L561.5,332.0M570.0,327.5L569.0,333.2M577.9,327.3L577.3,333.1M514.4,338.3L513.2,343.9M528.7,338.7L526.2,343.9M537.0,337.3L535.2,342.9M545.3,338.2L543.9,343.9M556.0,337.9L554.2,343.4M561.9,338.3L559.3,343.5M568.9,338.3L567.9,344.0M574.6,337.3L575.5,343.0M460.4,296.4L454.0,298.9M478.1,340.0L479.9,345.3M620.3,334.1L613.9,336.0M577.8,256.5L582.3,259.2M479.0,323.2L482.0,328.2M482.6,283.5L478.6,288.5M443.5,295.8L438.4,300.1M672.1,377.6L671.2,384.4M602.6,303.6L607.8,304.7M398.6,302.7L396.5,308.3M406.7,376.4L404.3,381.5M611.0,302.0L605.0,303.7M681.5,383.8L687.2,385.0M457.5,277.9L456.5,284.7M682.8,275.2L686.5,280.0M612.3,263.4L607.3,267.1M410.2,304.4L403.9,305.6M433.7,344.8L439.4,346.2M394.1,378.0L392.3,383.4M420.8,334.9L425.8,335.8M642.8,355.0L639.4,359.3M432.6,315.5L437.8,316.0M590.8,338.8L594.8,342.4M578.2,256.1L572.6,260.1M629.6,283.1L635.3,286.6M675.1,357.2L680.7,359.2M636.7,310.7L636.5,316.6M393.6,379.0L387.4,381.8M482.0,273.8L486.7,277.7M686.6,283.0L681.4,285.3M429.5,337.4L434.6,339.5M616.5,336.0L617.0,341.6M457.8,300.4L459.6,305.2M418.0,357.3L421.2,362.9M637.5,343.5L638.2,350.1M621.5,318.3L621.3,324.7M574.6,271.7L571.1,275.3M594.1,341.5L591.0,346.4M483.8,333.6L488.9,337.8M437.4,330.3L434.9,335.3M680.2,340.8L675.4,344.1M468.0,328.0L474.1,328.4M626.1,298.3L621.0,299.3M465.8,338.2L464.4,344.7M391.7,369.3L398.2,370.7M652.9,289.8L653.0,296.6M605.8,268.8L608.9,273.3M521.3,267.5L516.3,269.1M435.7,332.4L429.2,332.9M403.7,322.3L399.8,326.7M484.1,352.7L489.3,355.7M420.1,276.5L423.1,282.7M642.0,296.0L643.6,301.6M625.5,341.3L622.8,346.5M623.4,331.2L618.7,333.0M622.0,324.3L622.0,330.7M436.2,343.5L436.2,350.3M640.7,302.1L637.5,306.4M681.4,273.3L676.3,275.1M684.6,278.9L681.5,284.4M389.6,334.3L392.9,339.7M489.9,332.6L488.9,339.5M400.9,313.5L406.5,315.0M478.3,324.1L475.3,328.1M647.9,337.6L649.3,344.2M399.0,373.1L402.0,377.2M450.7,323.2L450.7,329.2M618.1,351.4L615.6,356.4M588.3,354.1L594.9,355.1M630.4,291.1L628.3,297.5M643.1,286.0L643.0,291.9M455.9,339.1L451.2,341.1M469.4,273.8L464.2,275.4M641.2,281.7L644.7,285.4M409.9,304.3L407.3,310.7M452.3,309.6L452.9,315.2M409.2,304.9L406.5,310.2M658.2,319.8L652.2,321.1M422.0,324.4L416.4,324.9M490.2,261.9L492.1,266.7M674.3,322.6L677.9,327.0M558.8,274.2L562.0,279.2M670.9,315.3L673.6,321.3M666.6,350.9L667.0,357.8M448.1,291.4L444.2,296.5M609.6,284.6L614.8,286.5M420.5,275.9L418.9,282.0M418.8,291.0L412.8,293.1M596.9,328.3L602.1,331.6M679.4,384.2L683.6,387.7M428.2,335.3L423.5,340.3M586.0,307.4L592.2,307.9M598.7,311.9L592.9,315.4M496.9,330.2L501.5,332.8M427.4,293.9L426.3,298.9M609.3,357.3L613.2,360.9M656.7,301.4L651.6,305.8M660.7,277.3L665.2,282.1M609.4,300.0L615.7,301.6M411.4,363.7L412.4,370.0M443.3,314.2L438.2,315.3M684.3,357.8L679.7,362.6M620.6,292.4L625.6,293.1M444.4,308.9L448.5,312.4M464.2,316.0L468.6,320.1M594.2,348.4L599.7,350.2M498.9,284.8L496.1,289.7M403.4,311.3L398.9,313.7M447.7,286.8L445.5,292.1M662.4,331.9L663.3,336.9M400.6,277.6L394.2,277.9M410.1,368.4L414.1,372.1M666.9,288.5L672.6,291.9M435.5,314.3L440.0,317.1M414.1,281.6L420.1,284.7M415.8,292.7L413.9,299.1M613.8,333.3L608.1,334.5M674.1,366.3L668.8,369.2M483.5,278.6L480.1,282.6M497.8,333.8L491.5,334.0M400.0,292.8L405.8,295.1M647.5,328.6L646.8,334.1M467.5,295.4L464.0,300.8M644.0,353.8L644.7,358.9M499.3,346.3L493.3,349.9M462.4,304.8L468.5,305.1M490.2,308.4L491.4,314.5M492.5,318.3L488.4,323.3M492.7,312.7L487.2,313.4M437.2,270.2L434.5,276.0M515.2,270.2L515.0,275.5M473.6,326.5L466.6,326.6M678.4,307.0L683.8,310.6M605.6,264.9L608.4,269.3M397.9,355.6L402.8,359.3M421.4,355.0L416.6,357.5M650.9,265.3L649.5,271.1M456.4,296.8L458.3,302.8M461.2,342.0L460.8,348.1M481.5,318.1L477.8,322.7M393.6,346.4L394.4,352.6M441.4,336.4L442.0,343.3M681.2,361.4L676.4,366.3M651.9,295.3L646.1,297.9M659.8,299.2L662.4,305.1M416.9,328.2L422.2,330.2M641.9,304.8L635.7,305.1M428.1,350.2L433.1,352.0M684.8,276.8L684.3,282.5M467.8,273.7L464.6,278.0" fill="none" stroke="#c04fd2" stroke-width="2.2" stroke-dasharray="1.4 0.8"/>
<polygon points="392,340 400,346 399,353" fill="#7a5fc0"/>
<rect x="439.5" y="368" width="8.5" height="1.4" fill="#777"/>
<rect x="384.5" y="377.5" width="2" height="1.6" fill="#444"/>
<rect x="528.5" y="250" width="66.5" height="32.5" fill="#fff"/>
<rect x="400" y="328" width="60" height="38.5" fill="#fff"/>
</g>
<text x="279.3" y="174.5" font-size="23" fill="#000" text-anchor="start" textLength="90" lengthAdjust="spacingAndGlyphs">Function</text>
<text x="117.2" y="403.8" font-size="23" fill="#000" text-anchor="start" textLength="85" lengthAdjust="spacingAndGlyphs">Process</text>
<text x="557.0" y="406.7" font-size="23" fill="#000" text-anchor="start" textLength="96.3" lengthAdjust="spacingAndGlyphs">Structure</text>
<text x="90.6" y="266.5" font-size="15" fill="#4f8a3a" text-anchor="start" textLength="107.5" lengthAdjust="spacingAndGlyphs">Chemical cues</text>
<text x="3.6" y="310.8" font-size="15.7" fill="#000" text-anchor="start" textLength="64.6" lengthAdjust="spacingAndGlyphs">Unfolded</text>
<text x="11.0" y="323" font-size="15.7" fill="#000" text-anchor="start" textLength="50.2" lengthAdjust="spacingAndGlyphs">protein</text>
<text x="111.0" y="327.9" font-size="15.2" fill="#000" text-anchor="start" textLength="58" lengthAdjust="spacingAndGlyphs">Shear &amp;</text>
<text x="102.8" y="340.8" font-size="15.2" fill="#000" text-anchor="start" textLength="74.6" lengthAdjust="spacingAndGlyphs">elongation</text>
<text x="251.2" y="301.8" font-size="15" fill="#000" text-anchor="start" textLength="60.4" lengthAdjust="spacingAndGlyphs">β–Sheet</text>
<text x="254.0" y="317.7" font-size="15" fill="#000" text-anchor="start" textLength="54.3" lengthAdjust="spacingAndGlyphs">rich silk</text>
<text x="537.0" y="273.8" font-size="22.7" fill="#000" text-anchor="start" textLength="51.6" lengthAdjust="spacingAndGlyphs">Hard</text>
<text x="405.0" y="356.9" font-size="23.3" fill="#000" text-anchor="start" textLength="46.6" lengthAdjust="spacingAndGlyphs">Soft</text>
<text x="624.8" y="247.4" font-size="18" font-family="Liberation Serif,serif" font-style="italic" style="font-family:'Liberation Serif',serif">β</text>
<text x="634.6" y="247.4" font-size="16.3" fill="#000" text-anchor="start" textLength="43" lengthAdjust="spacingAndGlyphs">-Turn</text>
<text x="513.9" y="374.6" font-size="18.5" font-family="Liberation Serif,serif" font-style="italic" style="font-family:'Liberation Serif',serif">β</text>
<text x="524.4" y="374.6" font-size="16.9" fill="#000" text-anchor="start" textLength="54.8" lengthAdjust="spacingAndGlyphs">-Sheet</text>
</svg>
</body></html>
